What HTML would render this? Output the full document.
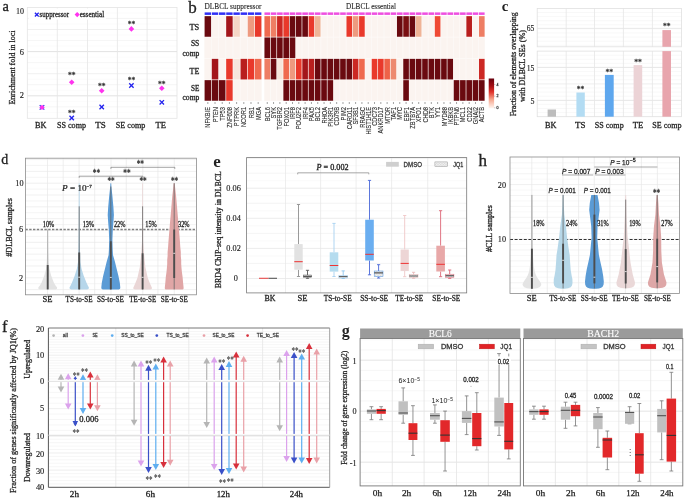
<!DOCTYPE html>
<html><head><meta charset="utf-8"><style>
html,body{margin:0;padding:0;background:#fff;overflow:hidden;}
svg{display:block;will-change:transform;}
</style></head><body>
<svg width="685" height="499" viewBox="0 0 685 499">
<rect width="685" height="499" fill="#fff"/>
<rect x="27.30" y="7.50" width="149.70" height="110.80" fill="#fff" />
<line x1="27.30" y1="106.85" x2="177.00" y2="106.85" stroke="#efefef" stroke-width="0.6" />
<line x1="27.30" y1="95.80" x2="177.00" y2="95.80" stroke="#dadada" stroke-width="0.8" />
<line x1="27.30" y1="84.75" x2="177.00" y2="84.75" stroke="#efefef" stroke-width="0.6" />
<line x1="27.30" y1="73.70" x2="177.00" y2="73.70" stroke="#e6e6e6" stroke-width="0.6" />
<line x1="27.30" y1="62.65" x2="177.00" y2="62.65" stroke="#efefef" stroke-width="0.6" />
<line x1="27.30" y1="51.60" x2="177.00" y2="51.60" stroke="#dadada" stroke-width="0.8" />
<line x1="27.30" y1="40.55" x2="177.00" y2="40.55" stroke="#efefef" stroke-width="0.6" />
<line x1="27.30" y1="29.50" x2="177.00" y2="29.50" stroke="#e6e6e6" stroke-width="0.6" />
<line x1="27.30" y1="18.45" x2="177.00" y2="18.45" stroke="#efefef" stroke-width="0.6" />
<line x1="27.30" y1="112.38" x2="177.00" y2="112.38" stroke="#f6f6f6" stroke-width="0.5" />
<line x1="27.30" y1="101.33" x2="177.00" y2="101.33" stroke="#f6f6f6" stroke-width="0.5" />
<line x1="27.30" y1="90.28" x2="177.00" y2="90.28" stroke="#f6f6f6" stroke-width="0.5" />
<line x1="27.30" y1="79.22" x2="177.00" y2="79.22" stroke="#f6f6f6" stroke-width="0.5" />
<line x1="27.30" y1="68.18" x2="177.00" y2="68.18" stroke="#f6f6f6" stroke-width="0.5" />
<line x1="27.30" y1="57.12" x2="177.00" y2="57.12" stroke="#f6f6f6" stroke-width="0.5" />
<line x1="27.30" y1="46.08" x2="177.00" y2="46.08" stroke="#f6f6f6" stroke-width="0.5" />
<line x1="27.30" y1="35.03" x2="177.00" y2="35.03" stroke="#f6f6f6" stroke-width="0.5" />
<line x1="27.30" y1="23.97" x2="177.00" y2="23.97" stroke="#f6f6f6" stroke-width="0.5" />
<line x1="27.30" y1="12.92" x2="177.00" y2="12.92" stroke="#f6f6f6" stroke-width="0.5" />
<line x1="57.30" y1="7.50" x2="57.30" y2="118.30" stroke="#e6e6e6" stroke-width="0.8" />
<line x1="87.50" y1="7.50" x2="87.50" y2="118.30" stroke="#e6e6e6" stroke-width="0.8" />
<line x1="117.40" y1="7.50" x2="117.40" y2="118.30" stroke="#e6e6e6" stroke-width="0.8" />
<line x1="147.10" y1="7.50" x2="147.10" y2="118.30" stroke="#e6e6e6" stroke-width="0.8" />
<rect x="27.3" y="7.5" width="149.7" height="110.8" fill="none" stroke="#e4e4e4" stroke-width="0.8"/>
<text x="24.00" y="13.66" font-size="8.4" font-family='"Liberation Serif", serif' fill="#222" text-anchor="end" stroke="#222" stroke-width="0.14" textLength="8.00" lengthAdjust="spacingAndGlyphs" >10</text>
<text x="24.00" y="54.76" font-size="8.4" font-family='"Liberation Serif", serif' fill="#222" text-anchor="end" stroke="#222" stroke-width="0.14" >6</text>
<text x="24.00" y="98.46" font-size="8.4" font-family='"Liberation Serif", serif' fill="#222" text-anchor="end" stroke="#222" stroke-width="0.14" >2</text>
<text transform="translate(12.00,67.50) rotate(-90)" x="0" y="2.92" font-size="8.6" font-family='"Liberation Serif", serif' fill="#222" text-anchor="middle" stroke="#222" stroke-width="0.28" textLength="74.00" lengthAdjust="spacingAndGlyphs" >Enrichment fold in loci</text>
<text x="40.70" y="128.22" font-size="8.6" font-family='"Liberation Serif", serif' fill="#222" text-anchor="middle" stroke="#222" stroke-width="0.28" textLength="11.50" lengthAdjust="spacingAndGlyphs" >BK</text>
<text x="71.50" y="128.22" font-size="8.6" font-family='"Liberation Serif", serif' fill="#222" text-anchor="middle" stroke="#222" stroke-width="0.28" textLength="29.00" lengthAdjust="spacingAndGlyphs" >SS comp</text>
<text x="100.60" y="128.22" font-size="8.6" font-family='"Liberation Serif", serif' fill="#222" text-anchor="middle" stroke="#222" stroke-width="0.28" textLength="10.50" lengthAdjust="spacingAndGlyphs" >TS</text>
<text x="130.60" y="128.22" font-size="8.6" font-family='"Liberation Serif", serif' fill="#222" text-anchor="middle" stroke="#222" stroke-width="0.28" textLength="29.50" lengthAdjust="spacingAndGlyphs" >SE comp</text>
<text x="160.80" y="128.22" font-size="8.6" font-family='"Liberation Serif", serif' fill="#222" text-anchor="middle" stroke="#222" stroke-width="0.28" textLength="10.50" lengthAdjust="spacingAndGlyphs" >TE</text>
<rect x="29.00" y="8.50" width="77.00" height="11.00" fill="#fff" />
<line x1="34.90" y1="12.70" x2="38.70" y2="16.50" stroke="#2222ee" stroke-width="1.3" />
<line x1="34.90" y1="16.50" x2="38.70" y2="12.70" stroke="#2222ee" stroke-width="1.3" />
<text x="39.60" y="17.39" font-size="8.2" font-family='"Liberation Serif", serif' fill="#222" text-anchor="start" stroke="#222" stroke-width="0.28" textLength="29.50" lengthAdjust="spacingAndGlyphs" >suppressor</text>
<path d="M74.60000000000001,14.6 L77.2,12.0 L79.8,14.6 L77.2,17.2 Z" fill="#ff33ee" stroke="none" stroke-width="0.5" />
<text x="79.70" y="17.39" font-size="8.2" font-family='"Liberation Serif", serif' fill="#222" text-anchor="start" stroke="#222" stroke-width="0.28" textLength="24.50" lengthAdjust="spacingAndGlyphs" >essential</text>
<line x1="39.70" y1="105.10" x2="44.30" y2="109.70" stroke="#3333ee" stroke-width="1.2" />
<line x1="39.70" y1="109.70" x2="44.30" y2="105.10" stroke="#3333ee" stroke-width="1.2" />
<path d="M39.3,107.4 L42.0,104.7 L44.7,107.4 L42.0,110.10000000000001 Z" fill="#ff33ee" stroke="none" stroke-width="0.5" />
<path d="M68.9,82.3 L71.7,79.5 L74.5,82.3 L71.7,85.1 Z" fill="#ff33ee" stroke="none" stroke-width="0.5" />
<text x="71.70" y="78.29" font-size="8.5" font-family='"Liberation Serif", serif' fill="#333" text-anchor="middle" stroke="#333" stroke-width="0.28" textLength="7.50" lengthAdjust="spacingAndGlyphs" >**</text>
<line x1="69.50" y1="115.80" x2="73.90" y2="120.20" stroke="#2222ee" stroke-width="1.3" />
<line x1="69.50" y1="120.20" x2="73.90" y2="115.80" stroke="#2222ee" stroke-width="1.3" />
<text x="71.70" y="115.59" font-size="8.5" font-family='"Liberation Serif", serif' fill="#333" text-anchor="middle" stroke="#333" stroke-width="0.28" textLength="7.50" lengthAdjust="spacingAndGlyphs" >**</text>
<path d="M98.9,90.7 L101.7,87.9 L104.5,90.7 L101.7,93.5 Z" fill="#ff33ee" stroke="none" stroke-width="0.5" />
<text x="101.70" y="88.79" font-size="8.5" font-family='"Liberation Serif", serif' fill="#333" text-anchor="middle" stroke="#333" stroke-width="0.28" textLength="7.50" lengthAdjust="spacingAndGlyphs" >**</text>
<line x1="99.50" y1="104.80" x2="103.90" y2="109.20" stroke="#2222ee" stroke-width="1.3" />
<line x1="99.50" y1="109.20" x2="103.90" y2="104.80" stroke="#2222ee" stroke-width="1.3" />
<path d="M128.6,28.9 L131.4,26.099999999999998 L134.20000000000002,28.9 L131.4,31.7 Z" fill="#ff33ee" stroke="none" stroke-width="0.5" />
<text x="131.40" y="27.19" font-size="8.5" font-family='"Liberation Serif", serif' fill="#333" text-anchor="middle" stroke="#333" stroke-width="0.28" textLength="7.50" lengthAdjust="spacingAndGlyphs" >**</text>
<line x1="129.20" y1="83.30" x2="133.60" y2="87.70" stroke="#2222ee" stroke-width="1.3" />
<line x1="129.20" y1="87.70" x2="133.60" y2="83.30" stroke="#2222ee" stroke-width="1.3" />
<text x="131.40" y="82.99" font-size="8.5" font-family='"Liberation Serif", serif' fill="#333" text-anchor="middle" stroke="#333" stroke-width="0.28" textLength="7.50" lengthAdjust="spacingAndGlyphs" >**</text>
<path d="M159.0,88.3 L161.8,85.5 L164.60000000000002,88.3 L161.8,91.1 Z" fill="#ff33ee" stroke="none" stroke-width="0.5" />
<text x="161.80" y="87.49" font-size="8.5" font-family='"Liberation Serif", serif' fill="#333" text-anchor="middle" stroke="#333" stroke-width="0.28" textLength="7.50" lengthAdjust="spacingAndGlyphs" >**</text>
<line x1="159.60" y1="100.10" x2="164.00" y2="104.50" stroke="#2222ee" stroke-width="1.3" />
<line x1="159.60" y1="104.50" x2="164.00" y2="100.10" stroke="#2222ee" stroke-width="1.3" />
<text x="5.60" y="11.43" font-size="14.5" font-family='"Liberation Serif", serif' fill="#222" text-anchor="middle" stroke="#222" stroke-width="0.28" textLength="6.40" lengthAdjust="spacingAndGlyphs" >a</text>
<rect x="204.25" y="15.80" width="57.52" height="85.30" fill="#fdfaf8" />
<rect x="264.10" y="15.80" width="220.85" height="85.30" fill="#fdfaf8" />
<rect x="204.60" y="16.15" width="6.49" height="20.60" fill="#6a0a10" />
<rect x="211.79" y="16.15" width="6.49" height="20.60" fill="#fbf4f0" />
<rect x="218.98" y="16.15" width="6.49" height="20.60" fill="#fbf4f0" />
<rect x="226.17" y="16.15" width="6.49" height="20.60" fill="#a3161b" />
<rect x="233.36" y="16.15" width="6.49" height="20.60" fill="#f5d6c6" />
<rect x="240.55" y="16.15" width="6.49" height="20.60" fill="#fbf4f0" />
<rect x="247.74" y="16.15" width="6.49" height="20.60" fill="#ee9a80" />
<rect x="254.93" y="16.15" width="6.49" height="20.60" fill="#e9392b" />
<rect x="264.45" y="16.15" width="5.61" height="20.60" fill="#ef6a4f" />
<rect x="270.76" y="16.15" width="5.61" height="20.60" fill="#ee7e64" />
<rect x="277.07" y="16.15" width="5.61" height="20.60" fill="#cc2824" />
<rect x="283.38" y="16.15" width="5.61" height="20.60" fill="#e9392b" />
<rect x="289.69" y="16.15" width="5.61" height="20.60" fill="#6a0a10" />
<rect x="296.00" y="16.15" width="5.61" height="20.60" fill="#6a0a10" />
<rect x="302.31" y="16.15" width="5.61" height="20.60" fill="#6a0a10" />
<rect x="308.62" y="16.15" width="5.61" height="20.60" fill="#e9392b" />
<rect x="314.93" y="16.15" width="5.61" height="20.60" fill="#efb497" />
<rect x="321.24" y="16.15" width="5.61" height="20.60" fill="#fbf4f0" />
<rect x="327.55" y="16.15" width="5.61" height="20.60" fill="#fbf4f0" />
<rect x="333.86" y="16.15" width="5.61" height="20.60" fill="#fbf4f0" />
<rect x="340.17" y="16.15" width="5.61" height="20.60" fill="#fbf4f0" />
<rect x="346.48" y="16.15" width="5.61" height="20.60" fill="#e9392b" />
<rect x="352.79" y="16.15" width="5.61" height="20.60" fill="#ee9a80" />
<rect x="359.10" y="16.15" width="5.61" height="20.60" fill="#e9392b" />
<rect x="365.41" y="16.15" width="5.61" height="20.60" fill="#fbf4f0" />
<rect x="371.72" y="16.15" width="5.61" height="20.60" fill="#fbf4f0" />
<rect x="378.03" y="16.15" width="5.61" height="20.60" fill="#fbf4f0" />
<rect x="384.34" y="16.15" width="5.61" height="20.60" fill="#fbf4f0" />
<rect x="390.65" y="16.15" width="5.61" height="20.60" fill="#fbf4f0" />
<rect x="396.96" y="16.15" width="5.61" height="20.60" fill="#6a0a10" />
<rect x="403.27" y="16.15" width="5.61" height="20.60" fill="#7a0f12" />
<rect x="409.58" y="16.15" width="5.61" height="20.60" fill="#6a0a10" />
<rect x="415.89" y="16.15" width="5.61" height="20.60" fill="#efb497" />
<rect x="422.20" y="16.15" width="5.61" height="20.60" fill="#fbf4f0" />
<rect x="428.51" y="16.15" width="5.61" height="20.60" fill="#fbf4f0" />
<rect x="434.82" y="16.15" width="5.61" height="20.60" fill="#ef4a35" />
<rect x="441.13" y="16.15" width="5.61" height="20.60" fill="#fbf4f0" />
<rect x="447.44" y="16.15" width="5.61" height="20.60" fill="#fbf4f0" />
<rect x="453.75" y="16.15" width="5.61" height="20.60" fill="#fbf4f0" />
<rect x="460.06" y="16.15" width="5.61" height="20.60" fill="#fbf4f0" />
<rect x="466.37" y="16.15" width="5.61" height="20.60" fill="#b91f1e" />
<rect x="472.68" y="16.15" width="5.61" height="20.60" fill="#fbf4f0" />
<rect x="478.99" y="16.15" width="5.61" height="20.60" fill="#ee7e64" />
<rect x="204.60" y="37.45" width="6.49" height="20.70" fill="#fbf4f0" />
<rect x="211.79" y="37.45" width="6.49" height="20.70" fill="#fbf4f0" />
<rect x="218.98" y="37.45" width="6.49" height="20.70" fill="#fbf4f0" />
<rect x="226.17" y="37.45" width="6.49" height="20.70" fill="#fbf4f0" />
<rect x="233.36" y="37.45" width="6.49" height="20.70" fill="#fbf4f0" />
<rect x="240.55" y="37.45" width="6.49" height="20.70" fill="#fbf4f0" />
<rect x="247.74" y="37.45" width="6.49" height="20.70" fill="#fbf4f0" />
<rect x="254.93" y="37.45" width="6.49" height="20.70" fill="#fbf4f0" />
<rect x="264.45" y="37.45" width="5.61" height="20.70" fill="#6a0a10" />
<rect x="270.76" y="37.45" width="5.61" height="20.70" fill="#6a0a10" />
<rect x="277.07" y="37.45" width="5.61" height="20.70" fill="#6a0a10" />
<rect x="283.38" y="37.45" width="5.61" height="20.70" fill="#6a0a10" />
<rect x="289.69" y="37.45" width="5.61" height="20.70" fill="#6a0a10" />
<rect x="296.00" y="37.45" width="5.61" height="20.70" fill="#fbf4f0" />
<rect x="302.31" y="37.45" width="5.61" height="20.70" fill="#fbf4f0" />
<rect x="308.62" y="37.45" width="5.61" height="20.70" fill="#fbf4f0" />
<rect x="314.93" y="37.45" width="5.61" height="20.70" fill="#fbf4f0" />
<rect x="321.24" y="37.45" width="5.61" height="20.70" fill="#fbf4f0" />
<rect x="327.55" y="37.45" width="5.61" height="20.70" fill="#fbf4f0" />
<rect x="333.86" y="37.45" width="5.61" height="20.70" fill="#fbf4f0" />
<rect x="340.17" y="37.45" width="5.61" height="20.70" fill="#fbf4f0" />
<rect x="346.48" y="37.45" width="5.61" height="20.70" fill="#fbf4f0" />
<rect x="352.79" y="37.45" width="5.61" height="20.70" fill="#fbf4f0" />
<rect x="359.10" y="37.45" width="5.61" height="20.70" fill="#fbf4f0" />
<rect x="365.41" y="37.45" width="5.61" height="20.70" fill="#fbf4f0" />
<rect x="371.72" y="37.45" width="5.61" height="20.70" fill="#fbf4f0" />
<rect x="378.03" y="37.45" width="5.61" height="20.70" fill="#fbf4f0" />
<rect x="384.34" y="37.45" width="5.61" height="20.70" fill="#fbf4f0" />
<rect x="390.65" y="37.45" width="5.61" height="20.70" fill="#fbf4f0" />
<rect x="396.96" y="37.45" width="5.61" height="20.70" fill="#fbf4f0" />
<rect x="403.27" y="37.45" width="5.61" height="20.70" fill="#fbf4f0" />
<rect x="409.58" y="37.45" width="5.61" height="20.70" fill="#fbf4f0" />
<rect x="415.89" y="37.45" width="5.61" height="20.70" fill="#fbf4f0" />
<rect x="422.20" y="37.45" width="5.61" height="20.70" fill="#fbf4f0" />
<rect x="428.51" y="37.45" width="5.61" height="20.70" fill="#fbf4f0" />
<rect x="434.82" y="37.45" width="5.61" height="20.70" fill="#fbf4f0" />
<rect x="441.13" y="37.45" width="5.61" height="20.70" fill="#fbf4f0" />
<rect x="447.44" y="37.45" width="5.61" height="20.70" fill="#fbf4f0" />
<rect x="453.75" y="37.45" width="5.61" height="20.70" fill="#fbf4f0" />
<rect x="460.06" y="37.45" width="5.61" height="20.70" fill="#fbf4f0" />
<rect x="466.37" y="37.45" width="5.61" height="20.70" fill="#fbf4f0" />
<rect x="472.68" y="37.45" width="5.61" height="20.70" fill="#fbf4f0" />
<rect x="478.99" y="37.45" width="5.61" height="20.70" fill="#fbf4f0" />
<rect x="204.60" y="58.85" width="6.49" height="20.60" fill="#fbf4f0" />
<rect x="211.79" y="58.85" width="6.49" height="20.60" fill="#a3161b" />
<rect x="218.98" y="58.85" width="6.49" height="20.60" fill="#fbf4f0" />
<rect x="226.17" y="58.85" width="6.49" height="20.60" fill="#e9392b" />
<rect x="233.36" y="58.85" width="6.49" height="20.60" fill="#f6e6dc" />
<rect x="240.55" y="58.85" width="6.49" height="20.60" fill="#b91f1e" />
<rect x="247.74" y="58.85" width="6.49" height="20.60" fill="#e9392b" />
<rect x="254.93" y="58.85" width="6.49" height="20.60" fill="#ef6a4f" />
<rect x="264.45" y="58.85" width="5.61" height="20.60" fill="#ee7e64" />
<rect x="270.76" y="58.85" width="5.61" height="20.60" fill="#6a0a10" />
<rect x="277.07" y="58.85" width="5.61" height="20.60" fill="#f6e6dc" />
<rect x="283.38" y="58.85" width="5.61" height="20.60" fill="#ef6a4f" />
<rect x="289.69" y="58.85" width="5.61" height="20.60" fill="#ee9a80" />
<rect x="296.00" y="58.85" width="5.61" height="20.60" fill="#e9392b" />
<rect x="302.31" y="58.85" width="5.61" height="20.60" fill="#a3161b" />
<rect x="308.62" y="58.85" width="5.61" height="20.60" fill="#b91f1e" />
<rect x="314.93" y="58.85" width="5.61" height="20.60" fill="#6a0a10" />
<rect x="321.24" y="58.85" width="5.61" height="20.60" fill="#6a0a10" />
<rect x="327.55" y="58.85" width="5.61" height="20.60" fill="#6a0a10" />
<rect x="333.86" y="58.85" width="5.61" height="20.60" fill="#6a0a10" />
<rect x="340.17" y="58.85" width="5.61" height="20.60" fill="#6a0a10" />
<rect x="346.48" y="58.85" width="5.61" height="20.60" fill="#6a0a10" />
<rect x="352.79" y="58.85" width="5.61" height="20.60" fill="#cc2824" />
<rect x="359.10" y="58.85" width="5.61" height="20.60" fill="#ef6a4f" />
<rect x="365.41" y="58.85" width="5.61" height="20.60" fill="#fbf4f0" />
<rect x="371.72" y="58.85" width="5.61" height="20.60" fill="#e9392b" />
<rect x="378.03" y="58.85" width="5.61" height="20.60" fill="#e9392b" />
<rect x="384.34" y="58.85" width="5.61" height="20.60" fill="#ee6248" />
<rect x="390.65" y="58.85" width="5.61" height="20.60" fill="#ed8a70" />
<rect x="396.96" y="58.85" width="5.61" height="20.60" fill="#fbf4f0" />
<rect x="403.27" y="58.85" width="5.61" height="20.60" fill="#6a0a10" />
<rect x="409.58" y="58.85" width="5.61" height="20.60" fill="#6a0a10" />
<rect x="415.89" y="58.85" width="5.61" height="20.60" fill="#6a0a10" />
<rect x="422.20" y="58.85" width="5.61" height="20.60" fill="#6a0a10" />
<rect x="428.51" y="58.85" width="5.61" height="20.60" fill="#6a0a10" />
<rect x="434.82" y="58.85" width="5.61" height="20.60" fill="#6a0a10" />
<rect x="441.13" y="58.85" width="5.61" height="20.60" fill="#6a0a10" />
<rect x="447.44" y="58.85" width="5.61" height="20.60" fill="#6a0a10" />
<rect x="453.75" y="58.85" width="5.61" height="20.60" fill="#fbf4f0" />
<rect x="460.06" y="58.85" width="5.61" height="20.60" fill="#fbf4f0" />
<rect x="466.37" y="58.85" width="5.61" height="20.60" fill="#fbf4f0" />
<rect x="472.68" y="58.85" width="5.61" height="20.60" fill="#fbf4f0" />
<rect x="478.99" y="58.85" width="5.61" height="20.60" fill="#cc2824" />
<rect x="204.60" y="80.15" width="6.49" height="20.60" fill="#6a0a10" />
<rect x="211.79" y="80.15" width="6.49" height="20.60" fill="#6a0a10" />
<rect x="218.98" y="80.15" width="6.49" height="20.60" fill="#6a0a10" />
<rect x="226.17" y="80.15" width="6.49" height="20.60" fill="#e9392b" />
<rect x="233.36" y="80.15" width="6.49" height="20.60" fill="#fbf4f0" />
<rect x="240.55" y="80.15" width="6.49" height="20.60" fill="#fbf4f0" />
<rect x="247.74" y="80.15" width="6.49" height="20.60" fill="#fbf4f0" />
<rect x="254.93" y="80.15" width="6.49" height="20.60" fill="#fbf4f0" />
<rect x="264.45" y="80.15" width="5.61" height="20.60" fill="#fbf4f0" />
<rect x="270.76" y="80.15" width="5.61" height="20.60" fill="#fbf4f0" />
<rect x="277.07" y="80.15" width="5.61" height="20.60" fill="#fbf4f0" />
<rect x="283.38" y="80.15" width="5.61" height="20.60" fill="#6a0a10" />
<rect x="289.69" y="80.15" width="5.61" height="20.60" fill="#6a0a10" />
<rect x="296.00" y="80.15" width="5.61" height="20.60" fill="#6a0a10" />
<rect x="302.31" y="80.15" width="5.61" height="20.60" fill="#6a0a10" />
<rect x="308.62" y="80.15" width="5.61" height="20.60" fill="#6a0a10" />
<rect x="314.93" y="80.15" width="5.61" height="20.60" fill="#6a0a10" />
<rect x="321.24" y="80.15" width="5.61" height="20.60" fill="#6a0a10" />
<rect x="327.55" y="80.15" width="5.61" height="20.60" fill="#6a0a10" />
<rect x="333.86" y="80.15" width="5.61" height="20.60" fill="#fbf4f0" />
<rect x="340.17" y="80.15" width="5.61" height="20.60" fill="#fbf4f0" />
<rect x="346.48" y="80.15" width="5.61" height="20.60" fill="#fbf4f0" />
<rect x="352.79" y="80.15" width="5.61" height="20.60" fill="#fbf4f0" />
<rect x="359.10" y="80.15" width="5.61" height="20.60" fill="#fbf4f0" />
<rect x="365.41" y="80.15" width="5.61" height="20.60" fill="#fbf4f0" />
<rect x="371.72" y="80.15" width="5.61" height="20.60" fill="#fbf4f0" />
<rect x="378.03" y="80.15" width="5.61" height="20.60" fill="#fbf4f0" />
<rect x="384.34" y="80.15" width="5.61" height="20.60" fill="#fbf4f0" />
<rect x="390.65" y="80.15" width="5.61" height="20.60" fill="#fbf4f0" />
<rect x="396.96" y="80.15" width="5.61" height="20.60" fill="#fbf4f0" />
<rect x="403.27" y="80.15" width="5.61" height="20.60" fill="#6a0a10" />
<rect x="409.58" y="80.15" width="5.61" height="20.60" fill="#fbf4f0" />
<rect x="415.89" y="80.15" width="5.61" height="20.60" fill="#fbf4f0" />
<rect x="422.20" y="80.15" width="5.61" height="20.60" fill="#fbf4f0" />
<rect x="428.51" y="80.15" width="5.61" height="20.60" fill="#fbf4f0" />
<rect x="434.82" y="80.15" width="5.61" height="20.60" fill="#fbf4f0" />
<rect x="441.13" y="80.15" width="5.61" height="20.60" fill="#fbf4f0" />
<rect x="447.44" y="80.15" width="5.61" height="20.60" fill="#fbf4f0" />
<rect x="453.75" y="80.15" width="5.61" height="20.60" fill="#6a0a10" />
<rect x="460.06" y="80.15" width="5.61" height="20.60" fill="#6a0a10" />
<rect x="466.37" y="80.15" width="5.61" height="20.60" fill="#6a0a10" />
<rect x="472.68" y="80.15" width="5.61" height="20.60" fill="#6a0a10" />
<rect x="478.99" y="80.15" width="5.61" height="20.60" fill="#6a0a10" />
<rect x="204.65" y="12.40" width="6.39" height="2.50" fill="#2f2ff5" />
<rect x="211.84" y="12.40" width="6.39" height="2.50" fill="#2f2ff5" />
<rect x="219.03" y="12.40" width="6.39" height="2.50" fill="#2f2ff5" />
<rect x="226.22" y="12.40" width="6.39" height="2.50" fill="#2f2ff5" />
<rect x="233.41" y="12.40" width="6.39" height="2.50" fill="#2f2ff5" />
<rect x="240.60" y="12.40" width="6.39" height="2.50" fill="#2f2ff5" />
<rect x="247.79" y="12.40" width="6.39" height="2.50" fill="#2f2ff5" />
<rect x="254.98" y="12.40" width="6.39" height="2.50" fill="#2f2ff5" />
<rect x="264.45" y="12.40" width="5.61" height="2.50" fill="#ee4fe0" />
<rect x="270.76" y="12.40" width="5.61" height="2.50" fill="#ee4fe0" />
<rect x="277.07" y="12.40" width="5.61" height="2.50" fill="#ee4fe0" />
<rect x="283.38" y="12.40" width="5.61" height="2.50" fill="#ee4fe0" />
<rect x="289.69" y="12.40" width="5.61" height="2.50" fill="#ee4fe0" />
<rect x="296.00" y="12.40" width="5.61" height="2.50" fill="#ee4fe0" />
<rect x="302.31" y="12.40" width="5.61" height="2.50" fill="#ee4fe0" />
<rect x="308.62" y="12.40" width="5.61" height="2.50" fill="#ee4fe0" />
<rect x="314.93" y="12.40" width="5.61" height="2.50" fill="#ee4fe0" />
<rect x="321.24" y="12.40" width="5.61" height="2.50" fill="#ee4fe0" />
<rect x="327.55" y="12.40" width="5.61" height="2.50" fill="#ee4fe0" />
<rect x="333.86" y="12.40" width="5.61" height="2.50" fill="#ee4fe0" />
<rect x="340.17" y="12.40" width="5.61" height="2.50" fill="#ee4fe0" />
<rect x="346.48" y="12.40" width="5.61" height="2.50" fill="#ee4fe0" />
<rect x="352.79" y="12.40" width="5.61" height="2.50" fill="#ee4fe0" />
<rect x="359.10" y="12.40" width="5.61" height="2.50" fill="#ee4fe0" />
<rect x="365.41" y="12.40" width="5.61" height="2.50" fill="#ee4fe0" />
<rect x="371.72" y="12.40" width="5.61" height="2.50" fill="#ee4fe0" />
<rect x="378.03" y="12.40" width="5.61" height="2.50" fill="#ee4fe0" />
<rect x="384.34" y="12.40" width="5.61" height="2.50" fill="#ee4fe0" />
<rect x="390.65" y="12.40" width="5.61" height="2.50" fill="#ee4fe0" />
<rect x="396.96" y="12.40" width="5.61" height="2.50" fill="#ee4fe0" />
<rect x="403.27" y="12.40" width="5.61" height="2.50" fill="#ee4fe0" />
<rect x="409.58" y="12.40" width="5.61" height="2.50" fill="#ee4fe0" />
<rect x="415.89" y="12.40" width="5.61" height="2.50" fill="#ee4fe0" />
<rect x="422.20" y="12.40" width="5.61" height="2.50" fill="#ee4fe0" />
<rect x="428.51" y="12.40" width="5.61" height="2.50" fill="#ee4fe0" />
<rect x="434.82" y="12.40" width="5.61" height="2.50" fill="#ee4fe0" />
<rect x="441.13" y="12.40" width="5.61" height="2.50" fill="#ee4fe0" />
<rect x="447.44" y="12.40" width="5.61" height="2.50" fill="#ee4fe0" />
<rect x="453.75" y="12.40" width="5.61" height="2.50" fill="#ee4fe0" />
<rect x="460.06" y="12.40" width="5.61" height="2.50" fill="#ee4fe0" />
<rect x="466.37" y="12.40" width="5.61" height="2.50" fill="#ee4fe0" />
<rect x="472.68" y="12.40" width="5.61" height="2.50" fill="#ee4fe0" />
<rect x="478.99" y="12.40" width="5.61" height="2.50" fill="#ee4fe0" />
<text x="233.00" y="8.52" font-size="8.6" font-family='"Liberation Serif", serif' fill="#222" text-anchor="middle" stroke="#222" stroke-width="0.1" textLength="57.00" lengthAdjust="spacingAndGlyphs" >DLBCL suppressor</text>
<text x="371.00" y="8.52" font-size="8.6" font-family='"Liberation Serif", serif' fill="#222" text-anchor="middle" stroke="#222" stroke-width="0.1" textLength="50.00" lengthAdjust="spacingAndGlyphs" >DLBCL essential</text>
<text x="199.30" y="29.99" font-size="8.8" font-family='"Liberation Serif", serif' fill="#222" text-anchor="end" stroke="#222" stroke-width="0.3" textLength="9.80" lengthAdjust="spacingAndGlyphs" >TS</text>
<text x="199.30" y="46.29" font-size="8.2" font-family='"Liberation Serif", serif' fill="#222" text-anchor="end" stroke="#222" stroke-width="0.3" textLength="8.40" lengthAdjust="spacingAndGlyphs" >SS</text>
<text x="199.30" y="55.59" font-size="8.2" font-family='"Liberation Serif", serif' fill="#222" text-anchor="end" stroke="#222" stroke-width="0.3" textLength="16.80" lengthAdjust="spacingAndGlyphs" >comp</text>
<text x="199.30" y="74.19" font-size="8.8" font-family='"Liberation Serif", serif' fill="#222" text-anchor="end" stroke="#222" stroke-width="0.3" textLength="9.80" lengthAdjust="spacingAndGlyphs" >TE</text>
<text x="199.30" y="91.19" font-size="8.2" font-family='"Liberation Serif", serif' fill="#222" text-anchor="end" stroke="#222" stroke-width="0.3" textLength="8.40" lengthAdjust="spacingAndGlyphs" >SE</text>
<text x="199.30" y="100.19" font-size="8.2" font-family='"Liberation Serif", serif' fill="#222" text-anchor="end" stroke="#222" stroke-width="0.3" textLength="16.80" lengthAdjust="spacingAndGlyphs" >comp</text>
<line x1="207.84" y1="102.00" x2="207.84" y2="104.00" stroke="#666" stroke-width="0.6" />
<text transform="translate(207.84,107.00) rotate(-90)" x="0" y="2.58" font-size="7.6" font-family='"Liberation Sans", sans-serif' fill="#2a2a2a" text-anchor="end" stroke="#2a2a2a" stroke-width="0.12" textLength="20.72" lengthAdjust="spacingAndGlyphs" >NFKBIE</text>
<line x1="215.03" y1="102.00" x2="215.03" y2="104.00" stroke="#666" stroke-width="0.6" />
<text transform="translate(215.03,107.00) rotate(-90)" x="0" y="2.58" font-size="7.6" font-family='"Liberation Sans", sans-serif' fill="#2a2a2a" text-anchor="end" stroke="#2a2a2a" stroke-width="0.12" textLength="15.30" lengthAdjust="spacingAndGlyphs" >PTEN</text>
<line x1="222.22" y1="102.00" x2="222.22" y2="104.00" stroke="#666" stroke-width="0.6" />
<text transform="translate(222.22,107.00) rotate(-90)" x="0" y="2.58" font-size="7.6" font-family='"Liberation Sans", sans-serif' fill="#2a2a2a" text-anchor="end" stroke="#2a2a2a" stroke-width="0.12" textLength="13.71" lengthAdjust="spacingAndGlyphs" >TP53</text>
<line x1="229.41" y1="102.00" x2="229.41" y2="104.00" stroke="#666" stroke-width="0.6" />
<text transform="translate(229.41,107.00) rotate(-90)" x="0" y="2.58" font-size="7.6" font-family='"Liberation Sans", sans-serif' fill="#2a2a2a" text-anchor="end" stroke="#2a2a2a" stroke-width="0.12" textLength="20.73" lengthAdjust="spacingAndGlyphs" >ZNF608</text>
<line x1="236.61" y1="102.00" x2="236.61" y2="104.00" stroke="#666" stroke-width="0.6" />
<text transform="translate(236.61,107.00) rotate(-90)" x="0" y="2.58" font-size="7.6" font-family='"Liberation Sans", sans-serif' fill="#2a2a2a" text-anchor="end" stroke="#2a2a2a" stroke-width="0.12" textLength="19.13" lengthAdjust="spacingAndGlyphs" >PTPRK</text>
<line x1="243.80" y1="102.00" x2="243.80" y2="104.00" stroke="#666" stroke-width="0.6" />
<text transform="translate(243.80,107.00) rotate(-90)" x="0" y="2.58" font-size="7.6" font-family='"Liberation Sans", sans-serif' fill="#2a2a2a" text-anchor="end" stroke="#2a2a2a" stroke-width="0.12" textLength="20.09" lengthAdjust="spacingAndGlyphs" >NCOR1</text>
<line x1="250.99" y1="102.00" x2="250.99" y2="104.00" stroke="#666" stroke-width="0.6" />
<text transform="translate(250.99,107.00) rotate(-90)" x="0" y="2.58" font-size="7.6" font-family='"Liberation Sans", sans-serif' fill="#2a2a2a" text-anchor="end" stroke="#2a2a2a" stroke-width="0.12" textLength="11.16" lengthAdjust="spacingAndGlyphs" >RB1</text>
<line x1="258.18" y1="102.00" x2="258.18" y2="104.00" stroke="#666" stroke-width="0.6" />
<text transform="translate(258.18,107.00) rotate(-90)" x="0" y="2.58" font-size="7.6" font-family='"Liberation Sans", sans-serif' fill="#2a2a2a" text-anchor="end" stroke="#2a2a2a" stroke-width="0.12" textLength="13.07" lengthAdjust="spacingAndGlyphs" >MGA</text>
<line x1="267.25" y1="102.00" x2="267.25" y2="104.00" stroke="#666" stroke-width="0.6" />
<text transform="translate(267.25,107.00) rotate(-90)" x="0" y="2.58" font-size="7.6" font-family='"Liberation Sans", sans-serif' fill="#2a2a2a" text-anchor="end" stroke="#2a2a2a" stroke-width="0.12" textLength="14.35" lengthAdjust="spacingAndGlyphs" >BCL6</text>
<line x1="273.56" y1="102.00" x2="273.56" y2="104.00" stroke="#666" stroke-width="0.6" />
<text transform="translate(273.56,107.00) rotate(-90)" x="0" y="2.58" font-size="7.6" font-family='"Liberation Sans", sans-serif' fill="#2a2a2a" text-anchor="end" stroke="#2a2a2a" stroke-width="0.12" textLength="11.48" lengthAdjust="spacingAndGlyphs" >SYK</text>
<line x1="279.88" y1="102.00" x2="279.88" y2="104.00" stroke="#666" stroke-width="0.6" />
<text transform="translate(279.88,107.00) rotate(-90)" x="0" y="2.58" font-size="7.6" font-family='"Liberation Sans", sans-serif' fill="#2a2a2a" text-anchor="end" stroke="#2a2a2a" stroke-width="0.12" textLength="22.63" lengthAdjust="spacingAndGlyphs" >TGFBR2</text>
<line x1="286.19" y1="102.00" x2="286.19" y2="104.00" stroke="#666" stroke-width="0.6" />
<text transform="translate(286.19,107.00) rotate(-90)" x="0" y="2.58" font-size="7.6" font-family='"Liberation Sans", sans-serif' fill="#2a2a2a" text-anchor="end" stroke="#2a2a2a" stroke-width="0.12" textLength="19.45" lengthAdjust="spacingAndGlyphs" >FOXO1</text>
<line x1="292.50" y1="102.00" x2="292.50" y2="104.00" stroke="#666" stroke-width="0.6" />
<text transform="translate(292.50,107.00) rotate(-90)" x="0" y="2.58" font-size="7.6" font-family='"Liberation Sans", sans-serif' fill="#2a2a2a" text-anchor="end" stroke="#2a2a2a" stroke-width="0.12" textLength="12.43" lengthAdjust="spacingAndGlyphs" >IRF8</text>
<line x1="298.81" y1="102.00" x2="298.81" y2="104.00" stroke="#666" stroke-width="0.6" />
<text transform="translate(298.81,107.00) rotate(-90)" x="0" y="2.58" font-size="7.6" font-family='"Liberation Sans", sans-serif' fill="#2a2a2a" text-anchor="end" stroke="#2a2a2a" stroke-width="0.12" textLength="22.32" lengthAdjust="spacingAndGlyphs" >POU2F2</text>
<line x1="305.12" y1="102.00" x2="305.12" y2="104.00" stroke="#666" stroke-width="0.6" />
<text transform="translate(305.12,107.00) rotate(-90)" x="0" y="2.58" font-size="7.6" font-family='"Liberation Sans", sans-serif' fill="#2a2a2a" text-anchor="end" stroke="#2a2a2a" stroke-width="0.12" textLength="12.43" lengthAdjust="spacingAndGlyphs" >IRF4</text>
<line x1="311.43" y1="102.00" x2="311.43" y2="104.00" stroke="#666" stroke-width="0.6" />
<text transform="translate(311.43,107.00) rotate(-90)" x="0" y="2.58" font-size="7.6" font-family='"Liberation Sans", sans-serif' fill="#2a2a2a" text-anchor="end" stroke="#2a2a2a" stroke-width="0.12" textLength="14.25" lengthAdjust="spacingAndGlyphs" >PAX5</text>
<line x1="317.74" y1="102.00" x2="317.74" y2="104.00" stroke="#666" stroke-width="0.6" />
<text transform="translate(317.74,107.00) rotate(-90)" x="0" y="2.58" font-size="7.6" font-family='"Liberation Sans", sans-serif' fill="#2a2a2a" text-anchor="end" stroke="#2a2a2a" stroke-width="0.12" textLength="14.35" lengthAdjust="spacingAndGlyphs" >BCL2</text>
<line x1="324.05" y1="102.00" x2="324.05" y2="104.00" stroke="#666" stroke-width="0.6" />
<text transform="translate(324.05,107.00) rotate(-90)" x="0" y="2.58" font-size="7.6" font-family='"Liberation Sans", sans-serif' fill="#2a2a2a" text-anchor="end" stroke="#2a2a2a" stroke-width="0.12" textLength="16.58" lengthAdjust="spacingAndGlyphs" >RHOA</text>
<line x1="330.36" y1="102.00" x2="330.36" y2="104.00" stroke="#666" stroke-width="0.6" />
<text transform="translate(330.36,107.00) rotate(-90)" x="0" y="2.58" font-size="7.6" font-family='"Liberation Sans", sans-serif' fill="#2a2a2a" text-anchor="end" stroke="#2a2a2a" stroke-width="0.12" textLength="19.77" lengthAdjust="spacingAndGlyphs" >PIK3R1</text>
<line x1="336.67" y1="102.00" x2="336.67" y2="104.00" stroke="#666" stroke-width="0.6" />
<text transform="translate(336.67,107.00) rotate(-90)" x="0" y="2.58" font-size="7.6" font-family='"Liberation Sans", sans-serif' fill="#2a2a2a" text-anchor="end" stroke="#2a2a2a" stroke-width="0.12" textLength="18.50" lengthAdjust="spacingAndGlyphs" >CD79B</text>
<line x1="342.98" y1="102.00" x2="342.98" y2="104.00" stroke="#666" stroke-width="0.6" />
<text transform="translate(342.98,107.00) rotate(-90)" x="0" y="2.58" font-size="7.6" font-family='"Liberation Sans", sans-serif' fill="#2a2a2a" text-anchor="end" stroke="#2a2a2a" stroke-width="0.12" textLength="13.39" lengthAdjust="spacingAndGlyphs" >PIM2</text>
<line x1="349.29" y1="102.00" x2="349.29" y2="104.00" stroke="#666" stroke-width="0.6" />
<text transform="translate(349.29,107.00) rotate(-90)" x="0" y="2.58" font-size="7.6" font-family='"Liberation Sans", sans-serif' fill="#2a2a2a" text-anchor="end" stroke="#2a2a2a" stroke-width="0.12" textLength="22.22" lengthAdjust="spacingAndGlyphs" >CARD11</text>
<line x1="355.60" y1="102.00" x2="355.60" y2="104.00" stroke="#666" stroke-width="0.6" />
<text transform="translate(355.60,107.00) rotate(-90)" x="0" y="2.58" font-size="7.6" font-family='"Liberation Sans", sans-serif' fill="#2a2a2a" text-anchor="end" stroke="#2a2a2a" stroke-width="0.12" textLength="17.54" lengthAdjust="spacingAndGlyphs" >SF3B1</text>
<line x1="361.91" y1="102.00" x2="361.91" y2="104.00" stroke="#666" stroke-width="0.6" />
<text transform="translate(361.91,107.00) rotate(-90)" x="0" y="2.58" font-size="7.6" font-family='"Liberation Sans", sans-serif' fill="#2a2a2a" text-anchor="end" stroke="#2a2a2a" stroke-width="0.12" textLength="20.72" lengthAdjust="spacingAndGlyphs" >RRAGC</text>
<line x1="368.22" y1="102.00" x2="368.22" y2="104.00" stroke="#666" stroke-width="0.6" />
<text transform="translate(368.22,107.00) rotate(-90)" x="0" y="2.58" font-size="7.6" font-family='"Liberation Sans", sans-serif' fill="#2a2a2a" text-anchor="end" stroke="#2a2a2a" stroke-width="0.12" textLength="27.42" lengthAdjust="spacingAndGlyphs" >HIST1H1E</text>
<line x1="374.53" y1="102.00" x2="374.53" y2="104.00" stroke="#666" stroke-width="0.6" />
<text transform="translate(374.53,107.00) rotate(-90)" x="0" y="2.58" font-size="7.6" font-family='"Liberation Sans", sans-serif' fill="#2a2a2a" text-anchor="end" stroke="#2a2a2a" stroke-width="0.12" textLength="18.81" lengthAdjust="spacingAndGlyphs" >CDC73</text>
<line x1="380.84" y1="102.00" x2="380.84" y2="104.00" stroke="#666" stroke-width="0.6" />
<text transform="translate(380.84,107.00) rotate(-90)" x="0" y="2.58" font-size="7.6" font-family='"Liberation Sans", sans-serif' fill="#2a2a2a" text-anchor="end" stroke="#2a2a2a" stroke-width="0.12" textLength="26.47" lengthAdjust="spacingAndGlyphs" >ANKRD17</text>
<line x1="387.14" y1="102.00" x2="387.14" y2="104.00" stroke="#666" stroke-width="0.6" />
<text transform="translate(387.14,107.00) rotate(-90)" x="0" y="2.58" font-size="7.6" font-family='"Liberation Sans", sans-serif' fill="#2a2a2a" text-anchor="end" stroke="#2a2a2a" stroke-width="0.12" textLength="16.79" lengthAdjust="spacingAndGlyphs" >MTOR</text>
<line x1="393.46" y1="102.00" x2="393.46" y2="104.00" stroke="#666" stroke-width="0.6" />
<text transform="translate(393.46,107.00) rotate(-90)" x="0" y="2.58" font-size="7.6" font-family='"Liberation Sans", sans-serif' fill="#2a2a2a" text-anchor="end" stroke="#2a2a2a" stroke-width="0.12" textLength="13.60" lengthAdjust="spacingAndGlyphs" >TAF1</text>
<line x1="399.76" y1="102.00" x2="399.76" y2="104.00" stroke="#666" stroke-width="0.6" />
<text transform="translate(399.76,107.00) rotate(-90)" x="0" y="2.58" font-size="7.6" font-family='"Liberation Sans", sans-serif' fill="#2a2a2a" text-anchor="end" stroke="#2a2a2a" stroke-width="0.12" textLength="12.75" lengthAdjust="spacingAndGlyphs" >MYC</text>
<line x1="406.08" y1="102.00" x2="406.08" y2="104.00" stroke="#666" stroke-width="0.6" />
<text transform="translate(406.08,107.00) rotate(-90)" x="0" y="2.58" font-size="7.6" font-family='"Liberation Sans", sans-serif' fill="#2a2a2a" text-anchor="end" stroke="#2a2a2a" stroke-width="0.12" textLength="14.35" lengthAdjust="spacingAndGlyphs" >EBF1</text>
<line x1="412.38" y1="102.00" x2="412.38" y2="104.00" stroke="#666" stroke-width="0.6" />
<text transform="translate(412.38,107.00) rotate(-90)" x="0" y="2.58" font-size="7.6" font-family='"Liberation Sans", sans-serif' fill="#2a2a2a" text-anchor="end" stroke="#2a2a2a" stroke-width="0.12" textLength="21.68" lengthAdjust="spacingAndGlyphs" >ZBTB7A</text>
<line x1="418.70" y1="102.00" x2="418.70" y2="104.00" stroke="#666" stroke-width="0.6" />
<text transform="translate(418.70,107.00) rotate(-90)" x="0" y="2.58" font-size="7.6" font-family='"Liberation Sans", sans-serif' fill="#2a2a2a" text-anchor="end" stroke="#2a2a2a" stroke-width="0.12" textLength="15.31" lengthAdjust="spacingAndGlyphs" >XPO1</text>
<line x1="425.00" y1="102.00" x2="425.00" y2="104.00" stroke="#666" stroke-width="0.6" />
<text transform="translate(425.00,107.00) rotate(-90)" x="0" y="2.58" font-size="7.6" font-family='"Liberation Sans", sans-serif' fill="#2a2a2a" text-anchor="end" stroke="#2a2a2a" stroke-width="0.12" textLength="15.62" lengthAdjust="spacingAndGlyphs" >CHD8</text>
<line x1="431.32" y1="102.00" x2="431.32" y2="104.00" stroke="#666" stroke-width="0.6" />
<text transform="translate(431.32,107.00) rotate(-90)" x="0" y="2.58" font-size="7.6" font-family='"Liberation Sans", sans-serif' fill="#2a2a2a" text-anchor="end" stroke="#2a2a2a" stroke-width="0.12" textLength="11.16" lengthAdjust="spacingAndGlyphs" >BTK</text>
<line x1="437.62" y1="102.00" x2="437.62" y2="104.00" stroke="#666" stroke-width="0.6" />
<text transform="translate(437.62,107.00) rotate(-90)" x="0" y="2.58" font-size="7.6" font-family='"Liberation Sans", sans-serif' fill="#2a2a2a" text-anchor="end" stroke="#2a2a2a" stroke-width="0.12" textLength="10.85" lengthAdjust="spacingAndGlyphs" >YY1</text>
<line x1="443.94" y1="102.00" x2="443.94" y2="104.00" stroke="#666" stroke-width="0.6" />
<text transform="translate(443.94,107.00) rotate(-90)" x="0" y="2.58" font-size="7.6" font-family='"Liberation Sans", sans-serif' fill="#2a2a2a" text-anchor="end" stroke="#2a2a2a" stroke-width="0.12" textLength="19.13" lengthAdjust="spacingAndGlyphs" >MYD88</text>
<line x1="450.25" y1="102.00" x2="450.25" y2="104.00" stroke="#666" stroke-width="0.6" />
<text transform="translate(450.25,107.00) rotate(-90)" x="0" y="2.58" font-size="7.6" font-family='"Liberation Sans", sans-serif' fill="#2a2a2a" text-anchor="end" stroke="#2a2a2a" stroke-width="0.12" textLength="16.90" lengthAdjust="spacingAndGlyphs" >IKBKB</text>
<line x1="456.56" y1="102.00" x2="456.56" y2="104.00" stroke="#666" stroke-width="0.6" />
<text transform="translate(456.56,107.00) rotate(-90)" x="0" y="2.58" font-size="7.6" font-family='"Liberation Sans", sans-serif' fill="#2a2a2a" text-anchor="end" stroke="#2a2a2a" stroke-width="0.12" textLength="18.49" lengthAdjust="spacingAndGlyphs" >PTPN6</text>
<line x1="462.87" y1="102.00" x2="462.87" y2="104.00" stroke="#666" stroke-width="0.6" />
<text transform="translate(462.87,107.00) rotate(-90)" x="0" y="2.58" font-size="7.6" font-family='"Liberation Sans", sans-serif' fill="#2a2a2a" text-anchor="end" stroke="#2a2a2a" stroke-width="0.12" textLength="15.31" lengthAdjust="spacingAndGlyphs" >MCL1</text>
<line x1="469.18" y1="102.00" x2="469.18" y2="104.00" stroke="#666" stroke-width="0.6" />
<text transform="translate(469.18,107.00) rotate(-90)" x="0" y="2.58" font-size="7.6" font-family='"Liberation Sans", sans-serif' fill="#2a2a2a" text-anchor="end" stroke="#2a2a2a" stroke-width="0.12" textLength="14.67" lengthAdjust="spacingAndGlyphs" >CD22</text>
<line x1="475.49" y1="102.00" x2="475.49" y2="104.00" stroke="#666" stroke-width="0.6" />
<text transform="translate(475.49,107.00) rotate(-90)" x="0" y="2.58" font-size="7.6" font-family='"Liberation Sans", sans-serif' fill="#2a2a2a" text-anchor="end" stroke="#2a2a2a" stroke-width="0.12" textLength="17.22" lengthAdjust="spacingAndGlyphs" >GNAI2</text>
<line x1="481.80" y1="102.00" x2="481.80" y2="104.00" stroke="#666" stroke-width="0.6" />
<text transform="translate(481.80,107.00) rotate(-90)" x="0" y="2.58" font-size="7.6" font-family='"Liberation Sans", sans-serif' fill="#2a2a2a" text-anchor="end" stroke="#2a2a2a" stroke-width="0.12" textLength="15.30" lengthAdjust="spacingAndGlyphs" >ACTB</text>
<defs><linearGradient id="cb" x1="0" y1="0" x2="0" y2="1"><stop offset="0" stop-color="#67000d"/><stop offset="0.25" stop-color="#a50f15"/><stop offset="0.45" stop-color="#e0322a"/><stop offset="0.7" stop-color="#f6a58c"/><stop offset="1" stop-color="#fff5f0"/></linearGradient></defs>
<rect x="488.70" y="78.50" width="5.40" height="29.80" fill="url(#cb)" />
<line x1="494.10" y1="84.50" x2="495.40" y2="84.50" stroke="#777" stroke-width="0.4" />
<text x="497.60" y="85.72" font-size="3.6" font-family='"Liberation Sans", sans-serif' fill="#444" text-anchor="middle" stroke="#444" stroke-width="0.28" >4</text>
<line x1="494.10" y1="96.20" x2="495.40" y2="96.20" stroke="#777" stroke-width="0.4" />
<text x="497.60" y="97.42" font-size="3.6" font-family='"Liberation Sans", sans-serif' fill="#444" text-anchor="middle" stroke="#444" stroke-width="0.28" >2</text>
<line x1="494.10" y1="107.80" x2="495.40" y2="107.80" stroke="#777" stroke-width="0.4" />
<text x="497.60" y="109.02" font-size="3.6" font-family='"Liberation Sans", sans-serif' fill="#444" text-anchor="middle" stroke="#444" stroke-width="0.28" >0</text>
<text x="192.50" y="12.58" font-size="17" font-family='"Liberation Serif", serif' fill="#222" text-anchor="middle" stroke="#222" stroke-width="0.28" textLength="8.50" lengthAdjust="spacingAndGlyphs" >b</text>
<rect x="537.20" y="8.40" width="144.40" height="38.40" fill="#fff" />
<line x1="537.20" y1="12.50" x2="681.60" y2="12.50" stroke="#f4f4f4" stroke-width="0.6" />
<line x1="537.20" y1="16.60" x2="681.60" y2="16.60" stroke="#f4f4f4" stroke-width="0.6" />
<line x1="537.20" y1="20.70" x2="681.60" y2="20.70" stroke="#f4f4f4" stroke-width="0.6" />
<line x1="537.20" y1="24.80" x2="681.60" y2="24.80" stroke="#f4f4f4" stroke-width="0.6" />
<line x1="537.20" y1="28.90" x2="681.60" y2="28.90" stroke="#f4f4f4" stroke-width="0.6" />
<line x1="537.20" y1="33.00" x2="681.60" y2="33.00" stroke="#f4f4f4" stroke-width="0.6" />
<line x1="537.20" y1="37.10" x2="681.60" y2="37.10" stroke="#f4f4f4" stroke-width="0.6" />
<line x1="537.20" y1="41.20" x2="681.60" y2="41.20" stroke="#f4f4f4" stroke-width="0.6" />
<line x1="537.20" y1="45.30" x2="681.60" y2="45.30" stroke="#f4f4f4" stroke-width="0.6" />
<rect x="537.20" y="51.10" width="144.40" height="65.60" fill="#fff" />
<line x1="537.20" y1="55.20" x2="681.60" y2="55.20" stroke="#f4f4f4" stroke-width="0.6" />
<line x1="537.20" y1="59.30" x2="681.60" y2="59.30" stroke="#f4f4f4" stroke-width="0.6" />
<line x1="537.20" y1="63.40" x2="681.60" y2="63.40" stroke="#f4f4f4" stroke-width="0.6" />
<line x1="537.20" y1="67.50" x2="681.60" y2="67.50" stroke="#f4f4f4" stroke-width="0.6" />
<line x1="537.20" y1="71.60" x2="681.60" y2="71.60" stroke="#f4f4f4" stroke-width="0.6" />
<line x1="537.20" y1="75.70" x2="681.60" y2="75.70" stroke="#f4f4f4" stroke-width="0.6" />
<line x1="537.20" y1="79.80" x2="681.60" y2="79.80" stroke="#f4f4f4" stroke-width="0.6" />
<line x1="537.20" y1="83.90" x2="681.60" y2="83.90" stroke="#f4f4f4" stroke-width="0.6" />
<line x1="537.20" y1="88.00" x2="681.60" y2="88.00" stroke="#f4f4f4" stroke-width="0.6" />
<line x1="537.20" y1="92.10" x2="681.60" y2="92.10" stroke="#f4f4f4" stroke-width="0.6" />
<line x1="537.20" y1="96.20" x2="681.60" y2="96.20" stroke="#f4f4f4" stroke-width="0.6" />
<line x1="537.20" y1="100.30" x2="681.60" y2="100.30" stroke="#f4f4f4" stroke-width="0.6" />
<line x1="537.20" y1="104.40" x2="681.60" y2="104.40" stroke="#f4f4f4" stroke-width="0.6" />
<line x1="537.20" y1="108.50" x2="681.60" y2="108.50" stroke="#f4f4f4" stroke-width="0.6" />
<line x1="537.20" y1="112.60" x2="681.60" y2="112.60" stroke="#f4f4f4" stroke-width="0.6" />
<line x1="537.20" y1="28.40" x2="681.60" y2="28.40" stroke="#e4e4e4" stroke-width="0.8" />
<line x1="537.20" y1="67.40" x2="681.60" y2="67.40" stroke="#e2e2e2" stroke-width="0.8" />
<line x1="537.20" y1="100.40" x2="681.60" y2="100.40" stroke="#e2e2e2" stroke-width="0.8" />
<line x1="537.20" y1="83.90" x2="681.60" y2="83.90" stroke="#ececec" stroke-width="0.7" />
<line x1="566.20" y1="8.40" x2="566.20" y2="46.80" stroke="#e6e6e6" stroke-width="0.8" />
<line x1="566.20" y1="51.10" x2="566.20" y2="116.70" stroke="#e6e6e6" stroke-width="0.8" />
<line x1="594.50" y1="8.40" x2="594.50" y2="46.80" stroke="#e6e6e6" stroke-width="0.8" />
<line x1="594.50" y1="51.10" x2="594.50" y2="116.70" stroke="#e6e6e6" stroke-width="0.8" />
<line x1="623.40" y1="8.40" x2="623.40" y2="46.80" stroke="#e6e6e6" stroke-width="0.8" />
<line x1="623.40" y1="51.10" x2="623.40" y2="116.70" stroke="#e6e6e6" stroke-width="0.8" />
<line x1="652.40" y1="8.40" x2="652.40" y2="46.80" stroke="#e6e6e6" stroke-width="0.8" />
<line x1="652.40" y1="51.10" x2="652.40" y2="116.70" stroke="#e6e6e6" stroke-width="0.8" />
<rect x="537.2" y="8.4" width="144.39999999999998" height="38.4" fill="none" stroke="#e0e0e0" stroke-width="0.8"/>
<rect x="537.2" y="51.1" width="144.39999999999998" height="65.6" fill="none" stroke="#e0e0e0" stroke-width="0.8"/>
<rect x="547.60" y="109.50" width="8.40" height="7.20" fill="#bdbdbd" />
<rect x="576.40" y="92.50" width="8.40" height="24.20" fill="#b3dcf3" />
<rect x="604.90" y="74.90" width="8.80" height="41.80" fill="#5ea7ee" />
<rect x="633.60" y="65.10" width="8.60" height="51.60" fill="#ecd3d6" />
<rect x="662.40" y="51.10" width="8.60" height="65.60" fill="#e8a5ad" />
<rect x="662.40" y="30.10" width="8.60" height="16.70" fill="#e8a5ad" />
<text x="580.60" y="92.09" font-size="8.5" font-family='"Liberation Serif", serif' fill="#333" text-anchor="middle" stroke="#333" stroke-width="0.28" textLength="7.50" lengthAdjust="spacingAndGlyphs" >**</text>
<text x="609.30" y="74.59" font-size="8.5" font-family='"Liberation Serif", serif' fill="#333" text-anchor="middle" stroke="#333" stroke-width="0.28" textLength="7.50" lengthAdjust="spacingAndGlyphs" >**</text>
<text x="637.90" y="65.39" font-size="8.5" font-family='"Liberation Serif", serif' fill="#333" text-anchor="middle" stroke="#333" stroke-width="0.28" textLength="7.50" lengthAdjust="spacingAndGlyphs" >**</text>
<text x="666.70" y="29.09" font-size="8.5" font-family='"Liberation Serif", serif' fill="#333" text-anchor="middle" stroke="#333" stroke-width="0.28" textLength="7.50" lengthAdjust="spacingAndGlyphs" >**</text>
<text x="534.40" y="31.19" font-size="7.9" font-family='"Liberation Serif", serif' fill="#222" text-anchor="end" stroke="#222" stroke-width="0.14" textLength="7.60" lengthAdjust="spacingAndGlyphs" >65</text>
<text x="534.40" y="71.29" font-size="7.9" font-family='"Liberation Serif", serif' fill="#222" text-anchor="end" stroke="#222" stroke-width="0.14" textLength="7.60" lengthAdjust="spacingAndGlyphs" >15</text>
<text x="534.40" y="103.89" font-size="7.9" font-family='"Liberation Serif", serif' fill="#222" text-anchor="end" stroke="#222" stroke-width="0.14" >5</text>
<text transform="translate(512.80,64.30) rotate(-90)" x="0" y="2.79" font-size="8.2" font-family='"Liberation Serif", serif' fill="#222" text-anchor="middle" stroke="#222" stroke-width="0.28" textLength="104.00" lengthAdjust="spacingAndGlyphs" >Fraction of elements overlapping</text>
<text transform="translate(522.00,66.00) rotate(-90)" x="0" y="2.79" font-size="8.2" font-family='"Liberation Serif", serif' fill="#222" text-anchor="middle" stroke="#222" stroke-width="0.28" textLength="72.00" lengthAdjust="spacingAndGlyphs" >with DLBCL SEs (%)</text>
<text x="550.80" y="128.22" font-size="8.6" font-family='"Liberation Serif", serif' fill="#222" text-anchor="middle" stroke="#222" stroke-width="0.28" textLength="11.50" lengthAdjust="spacingAndGlyphs" >BK</text>
<text x="580.20" y="128.22" font-size="8.6" font-family='"Liberation Serif", serif' fill="#222" text-anchor="middle" stroke="#222" stroke-width="0.28" textLength="10.50" lengthAdjust="spacingAndGlyphs" >TS</text>
<text x="609.20" y="128.22" font-size="8.6" font-family='"Liberation Serif", serif' fill="#222" text-anchor="middle" stroke="#222" stroke-width="0.28" textLength="29.00" lengthAdjust="spacingAndGlyphs" >SS comp</text>
<text x="637.90" y="128.22" font-size="8.6" font-family='"Liberation Serif", serif' fill="#222" text-anchor="middle" stroke="#222" stroke-width="0.28" textLength="10.50" lengthAdjust="spacingAndGlyphs" >TE</text>
<text x="666.90" y="128.22" font-size="8.6" font-family='"Liberation Serif", serif' fill="#222" text-anchor="middle" stroke="#222" stroke-width="0.28" textLength="29.50" lengthAdjust="spacingAndGlyphs" >SE comp</text>
<text x="505.00" y="11.36" font-size="14" font-family='"Liberation Serif", serif' fill="#222" text-anchor="middle" font-weight="bold" textLength="6.60" lengthAdjust="spacingAndGlyphs" >c</text>
<rect x="25.40" y="158.20" width="171.00" height="136.60" fill="#fff" />
<line x1="25.40" y1="289.62" x2="196.40" y2="289.62" stroke="#e6e6e6" stroke-width="0.6" />
<line x1="25.40" y1="283.71" x2="196.40" y2="283.71" stroke="#efefef" stroke-width="0.6" />
<line x1="25.40" y1="277.80" x2="196.40" y2="277.80" stroke="#e6e6e6" stroke-width="0.6" />
<line x1="25.40" y1="271.89" x2="196.40" y2="271.89" stroke="#efefef" stroke-width="0.6" />
<line x1="25.40" y1="265.98" x2="196.40" y2="265.98" stroke="#e6e6e6" stroke-width="0.6" />
<line x1="25.40" y1="260.06" x2="196.40" y2="260.06" stroke="#efefef" stroke-width="0.6" />
<line x1="25.40" y1="254.15" x2="196.40" y2="254.15" stroke="#e6e6e6" stroke-width="0.6" />
<line x1="25.40" y1="248.24" x2="196.40" y2="248.24" stroke="#efefef" stroke-width="0.6" />
<line x1="25.40" y1="242.33" x2="196.40" y2="242.33" stroke="#e6e6e6" stroke-width="0.6" />
<line x1="25.40" y1="236.41" x2="196.40" y2="236.41" stroke="#efefef" stroke-width="0.6" />
<line x1="25.40" y1="230.50" x2="196.40" y2="230.50" stroke="#e6e6e6" stroke-width="0.6" />
<line x1="25.40" y1="224.59" x2="196.40" y2="224.59" stroke="#efefef" stroke-width="0.6" />
<line x1="25.40" y1="218.68" x2="196.40" y2="218.68" stroke="#e6e6e6" stroke-width="0.6" />
<line x1="25.40" y1="212.76" x2="196.40" y2="212.76" stroke="#efefef" stroke-width="0.6" />
<line x1="25.40" y1="206.85" x2="196.40" y2="206.85" stroke="#e6e6e6" stroke-width="0.6" />
<line x1="25.40" y1="200.94" x2="196.40" y2="200.94" stroke="#efefef" stroke-width="0.6" />
<line x1="25.40" y1="195.03" x2="196.40" y2="195.03" stroke="#e6e6e6" stroke-width="0.6" />
<line x1="25.40" y1="189.11" x2="196.40" y2="189.11" stroke="#efefef" stroke-width="0.6" />
<line x1="25.40" y1="183.20" x2="196.40" y2="183.20" stroke="#e6e6e6" stroke-width="0.6" />
<line x1="25.40" y1="177.29" x2="196.40" y2="177.29" stroke="#efefef" stroke-width="0.6" />
<line x1="25.40" y1="171.38" x2="196.40" y2="171.38" stroke="#e6e6e6" stroke-width="0.6" />
<line x1="25.40" y1="165.46" x2="196.40" y2="165.46" stroke="#efefef" stroke-width="0.6" />
<line x1="25.40" y1="159.55" x2="196.40" y2="159.55" stroke="#e6e6e6" stroke-width="0.6" />
<line x1="47.50" y1="158.20" x2="47.50" y2="294.80" stroke="#e8e8e8" stroke-width="0.7" />
<line x1="63.20" y1="158.20" x2="63.20" y2="294.80" stroke="#e8e8e8" stroke-width="0.7" />
<line x1="79.10" y1="158.20" x2="79.10" y2="294.80" stroke="#e8e8e8" stroke-width="0.7" />
<line x1="94.70" y1="158.20" x2="94.70" y2="294.80" stroke="#e8e8e8" stroke-width="0.7" />
<line x1="111.00" y1="158.20" x2="111.00" y2="294.80" stroke="#e8e8e8" stroke-width="0.7" />
<line x1="126.30" y1="158.20" x2="126.30" y2="294.80" stroke="#e8e8e8" stroke-width="0.7" />
<line x1="142.80" y1="158.20" x2="142.80" y2="294.80" stroke="#e8e8e8" stroke-width="0.7" />
<line x1="157.90" y1="158.20" x2="157.90" y2="294.80" stroke="#e8e8e8" stroke-width="0.7" />
<line x1="174.30" y1="158.20" x2="174.30" y2="294.80" stroke="#e8e8e8" stroke-width="0.7" />
<line x1="25.40" y1="229.50" x2="196.40" y2="229.50" stroke="#808080" stroke-width="1.6" stroke-dasharray="2.4,1.4"/>
<polygon points="48.00,229.50 48.20,250.00 48.70,262.00 49.40,268.90 51.20,275.80 53.90,282.70 55.50,285.50 57.10,287.60 57.00,288.80 55.70,289.50 39.70,289.50 38.40,288.80 38.30,287.60 39.90,285.50 41.50,282.70 44.20,275.80 46.00,268.90 46.70,262.00 47.20,250.00 47.40,229.50" fill="#e3e3e3" stroke="none"/>
<polygon points="79.60,183.20 79.70,230.00 80.00,250.00 80.40,261.90 81.60,268.90 83.70,275.80 86.50,282.70 87.80,285.50 88.90,287.60 88.70,288.80 87.20,289.50 71.20,289.50 69.70,288.80 69.50,287.60 70.60,285.50 71.90,282.70 74.70,275.80 76.80,268.90 78.00,261.90 78.40,250.00 78.70,230.00 78.80,183.20" fill="#b6d6ea" stroke="none"/>
<polygon points="111.20,183.20 111.40,187.00 112.40,196.00 113.40,207.00 113.90,215.00 113.40,222.50 112.80,230.00 112.40,240.00 112.70,250.00 113.00,255.00 115.00,261.90 116.70,268.90 118.40,275.80 119.80,282.70 120.30,287.60 120.10,288.80 118.80,289.50 102.80,289.50 101.50,288.80 101.30,287.60 101.80,282.70 103.20,275.80 104.90,268.90 106.60,261.90 108.60,255.00 108.90,250.00 109.20,240.00 108.80,230.00 108.20,222.50 107.70,215.00 108.20,207.00 109.20,196.00 110.20,187.00 110.40,183.20" fill="#5b9bd5" stroke="none"/>
<polygon points="142.95,183.20 143.10,240.00 144.25,256.00 145.35,267.00 147.80,278.00 150.00,283.60 152.00,288.00 151.60,289.00 150.10,289.50 135.10,289.50 133.60,289.00 133.20,288.00 135.20,283.60 137.40,278.00 139.85,267.00 140.95,256.00 142.10,240.00 142.25,183.20" fill="#ead6d6" stroke="none"/>
<polygon points="174.70,183.20 175.40,190.00 176.10,196.00 176.70,203.00 177.20,209.00 177.80,216.00 178.40,222.50 178.90,229.00 179.40,235.00 179.90,241.00 180.30,247.00 180.80,252.00 180.80,256.00 181.20,260.00 181.20,264.00 181.50,268.00 181.90,272.00 182.60,277.00 183.10,283.00 183.60,287.50 183.50,289.00 182.70,289.50 165.70,289.50 164.90,289.00 164.80,287.50 165.30,283.00 165.80,277.00 166.50,272.00 166.90,268.00 167.20,264.00 167.20,260.00 167.60,256.00 167.60,252.00 168.10,247.00 168.50,241.00 169.00,235.00 169.50,229.00 170.00,222.50 170.60,216.00 171.20,209.00 171.70,203.00 172.30,196.00 173.00,190.00 173.70,183.20" fill="#e0a6a6" stroke="none"/>
<line x1="47.70" y1="229.50" x2="47.70" y2="289.40" stroke="#a0a0a0" stroke-width="0.8" />
<rect x="46.75" y="265.00" width="1.90" height="24.40" fill="#4d4d4d" />
<line x1="79.20" y1="206.30" x2="79.20" y2="289.40" stroke="#666" stroke-width="0.8" />
<rect x="78.25" y="252.50" width="1.90" height="36.90" fill="#4d4d4d" />
<line x1="78.25" y1="277.20" x2="80.15" y2="277.20" stroke="#fff" stroke-width="0.8" />
<line x1="110.80" y1="186.50" x2="110.80" y2="289.40" stroke="#666" stroke-width="0.8" />
<rect x="109.85" y="241.30" width="1.90" height="48.10" fill="#4d4d4d" />
<line x1="109.85" y1="277.40" x2="111.75" y2="277.40" stroke="#fff" stroke-width="0.8" />
<line x1="142.60" y1="206.30" x2="142.60" y2="289.40" stroke="#666" stroke-width="0.8" />
<rect x="141.65" y="253.30" width="1.90" height="36.10" fill="#4d4d4d" />
<line x1="141.65" y1="277.30" x2="143.55" y2="277.30" stroke="#fff" stroke-width="0.8" />
<line x1="174.20" y1="183.20" x2="174.20" y2="289.40" stroke="#666" stroke-width="0.8" />
<rect x="173.25" y="229.50" width="1.90" height="48.50" fill="#4d4d4d" />
<line x1="173.25" y1="253.30" x2="175.15" y2="253.30" stroke="#fff" stroke-width="0.8" />
<rect x="25.4" y="158.2" width="171.0" height="136.60000000000002" fill="none" stroke="#8c8c8c" stroke-width="0.8"/>
<text x="48.60" y="226.65" font-size="7.8" font-family='"Liberation Serif", serif' fill="#222" text-anchor="middle" stroke="#222" stroke-width="0.28" textLength="11.50" lengthAdjust="spacingAndGlyphs" >10%</text>
<text x="88.40" y="226.65" font-size="7.8" font-family='"Liberation Serif", serif' fill="#222" text-anchor="middle" stroke="#222" stroke-width="0.28" textLength="11.50" lengthAdjust="spacingAndGlyphs" >13%</text>
<text x="119.70" y="226.65" font-size="7.8" font-family='"Liberation Serif", serif' fill="#222" text-anchor="middle" stroke="#222" stroke-width="0.28" textLength="11.50" lengthAdjust="spacingAndGlyphs" >22%</text>
<text x="151.00" y="226.65" font-size="7.8" font-family='"Liberation Serif", serif' fill="#222" text-anchor="middle" stroke="#222" stroke-width="0.28" textLength="11.50" lengthAdjust="spacingAndGlyphs" >15%</text>
<text x="183.80" y="226.65" font-size="7.8" font-family='"Liberation Serif", serif' fill="#222" text-anchor="middle" stroke="#222" stroke-width="0.28" textLength="11.50" lengthAdjust="spacingAndGlyphs" >32%</text>
<text x="74.3" y="191.0" font-size="7.4" font-family='"Liberation Serif", serif' fill="#222" stroke="#222" stroke-width="0.2" text-anchor="middle" textLength="24.5" lengthAdjust="spacingAndGlyphs"><tspan font-style="italic">P</tspan> = 10</text>
<text x="86.60" y="188.10" font-size="5.0" font-family='"Liberation Serif", serif' fill="#222" text-anchor="start" stroke="#222" stroke-width="0.28" textLength="5.20" lengthAdjust="spacingAndGlyphs" >−7</text>
<text x="111.00" y="184.20" font-size="10" font-family='"Liberation Serif", serif' fill="#333" text-anchor="middle" stroke="#333" stroke-width="0.28" textLength="7.20" lengthAdjust="spacingAndGlyphs" >**</text>
<text x="143.00" y="184.20" font-size="10" font-family='"Liberation Serif", serif' fill="#333" text-anchor="middle" stroke="#333" stroke-width="0.28" textLength="7.20" lengthAdjust="spacingAndGlyphs" >**</text>
<text x="174.50" y="184.20" font-size="10" font-family='"Liberation Serif", serif' fill="#333" text-anchor="middle" stroke="#333" stroke-width="0.28" textLength="7.20" lengthAdjust="spacingAndGlyphs" >**</text>
<line x1="79.20" y1="176.20" x2="143.00" y2="176.20" stroke="#666" stroke-width="0.6" />
<line x1="79.20" y1="176.20" x2="79.20" y2="177.80" stroke="#666" stroke-width="0.6" />
<line x1="143.00" y1="176.20" x2="143.00" y2="177.80" stroke="#666" stroke-width="0.6" />
<text x="96.40" y="176.30" font-size="10" font-family='"Liberation Serif", serif' fill="#333" text-anchor="middle" stroke="#333" stroke-width="0.28" textLength="7.20" lengthAdjust="spacingAndGlyphs" >**</text>
<text x="126.90" y="176.30" font-size="10" font-family='"Liberation Serif", serif' fill="#333" text-anchor="middle" stroke="#333" stroke-width="0.28" textLength="7.20" lengthAdjust="spacingAndGlyphs" >**</text>
<line x1="110.90" y1="167.30" x2="174.80" y2="167.30" stroke="#666" stroke-width="0.6" />
<line x1="110.90" y1="167.30" x2="110.90" y2="168.90" stroke="#666" stroke-width="0.6" />
<line x1="174.80" y1="167.30" x2="174.80" y2="168.90" stroke="#666" stroke-width="0.6" />
<text x="140.30" y="167.10" font-size="10" font-family='"Liberation Serif", serif' fill="#333" text-anchor="middle" stroke="#333" stroke-width="0.28" textLength="7.20" lengthAdjust="spacingAndGlyphs" >**</text>
<text x="23.50" y="186.19" font-size="8.2" font-family='"Liberation Serif", serif' fill="#222" text-anchor="end" stroke="#222" stroke-width="0.14" textLength="8.20" lengthAdjust="spacingAndGlyphs" >10</text>
<text x="23.00" y="232.39" font-size="8.2" font-family='"Liberation Serif", serif' fill="#222" text-anchor="end" stroke="#222" stroke-width="0.14" >6</text>
<text x="23.00" y="280.69" font-size="8.2" font-family='"Liberation Serif", serif' fill="#222" text-anchor="end" stroke="#222" stroke-width="0.14" >2</text>
<text transform="translate(9.00,227.40) rotate(-90)" x="0" y="2.79" font-size="8.2" font-family='"Liberation Serif", serif' fill="#222" text-anchor="middle" stroke="#222" stroke-width="0.28" textLength="58.80" lengthAdjust="spacingAndGlyphs" >#DLBCL samples</text>
<text x="47.50" y="301.69" font-size="8.2" font-family='"Liberation Serif", serif' fill="#222" text-anchor="middle" stroke="#222" stroke-width="0.28" textLength="10.00" lengthAdjust="spacingAndGlyphs" >SE</text>
<text x="79.10" y="301.69" font-size="8.2" font-family='"Liberation Serif", serif' fill="#222" text-anchor="middle" stroke="#222" stroke-width="0.28" textLength="27.00" lengthAdjust="spacingAndGlyphs" >TS-to-SE</text>
<text x="110.40" y="301.69" font-size="8.2" font-family='"Liberation Serif", serif' fill="#222" text-anchor="middle" stroke="#222" stroke-width="0.28" textLength="27.00" lengthAdjust="spacingAndGlyphs" >SS-to-SE</text>
<text x="142.80" y="301.69" font-size="8.2" font-family='"Liberation Serif", serif' fill="#222" text-anchor="middle" stroke="#222" stroke-width="0.28" textLength="27.00" lengthAdjust="spacingAndGlyphs" >TE-to-SE</text>
<text x="174.30" y="301.69" font-size="8.2" font-family='"Liberation Serif", serif' fill="#222" text-anchor="middle" stroke="#222" stroke-width="0.28" textLength="27.00" lengthAdjust="spacingAndGlyphs" >SE-to-SE</text>
<text x="4.80" y="164.16" font-size="14" font-family='"Liberation Serif", serif' fill="#222" text-anchor="middle" stroke="#222" stroke-width="0.28" textLength="7.00" lengthAdjust="spacingAndGlyphs" >d</text>
<rect x="246.60" y="157.60" width="220.10" height="135.30" fill="#fff" />
<line x1="246.60" y1="278.50" x2="466.70" y2="278.50" stroke="#e4e4e4" stroke-width="0.7" />
<line x1="246.60" y1="263.45" x2="466.70" y2="263.45" stroke="#efefef" stroke-width="0.7" />
<line x1="246.60" y1="248.40" x2="466.70" y2="248.40" stroke="#e4e4e4" stroke-width="0.7" />
<line x1="246.60" y1="233.35" x2="466.70" y2="233.35" stroke="#efefef" stroke-width="0.7" />
<line x1="246.60" y1="218.30" x2="466.70" y2="218.30" stroke="#e4e4e4" stroke-width="0.7" />
<line x1="246.60" y1="203.25" x2="466.70" y2="203.25" stroke="#efefef" stroke-width="0.7" />
<line x1="246.60" y1="188.20" x2="466.70" y2="188.20" stroke="#e4e4e4" stroke-width="0.7" />
<line x1="246.60" y1="173.15" x2="466.70" y2="173.15" stroke="#efefef" stroke-width="0.7" />
<line x1="246.60" y1="158.10" x2="466.70" y2="158.10" stroke="#e4e4e4" stroke-width="0.7" />
<line x1="246.60" y1="286.02" x2="466.70" y2="286.02" stroke="#f5f5f5" stroke-width="0.5" />
<line x1="246.60" y1="270.98" x2="466.70" y2="270.98" stroke="#f5f5f5" stroke-width="0.5" />
<line x1="246.60" y1="255.93" x2="466.70" y2="255.93" stroke="#f5f5f5" stroke-width="0.5" />
<line x1="246.60" y1="240.88" x2="466.70" y2="240.88" stroke="#f5f5f5" stroke-width="0.5" />
<line x1="246.60" y1="225.82" x2="466.70" y2="225.82" stroke="#f5f5f5" stroke-width="0.5" />
<line x1="246.60" y1="210.78" x2="466.70" y2="210.78" stroke="#f5f5f5" stroke-width="0.5" />
<line x1="246.60" y1="195.72" x2="466.70" y2="195.72" stroke="#f5f5f5" stroke-width="0.5" />
<line x1="246.60" y1="180.68" x2="466.70" y2="180.68" stroke="#f5f5f5" stroke-width="0.5" />
<line x1="246.60" y1="165.62" x2="466.70" y2="165.62" stroke="#f5f5f5" stroke-width="0.5" />
<line x1="285.50" y1="157.60" x2="285.50" y2="292.90" stroke="#e6e6e6" stroke-width="0.7" />
<line x1="320.60" y1="157.60" x2="320.60" y2="292.90" stroke="#e6e6e6" stroke-width="0.7" />
<line x1="356.10" y1="157.60" x2="356.10" y2="292.90" stroke="#e6e6e6" stroke-width="0.7" />
<line x1="391.60" y1="157.60" x2="391.60" y2="292.90" stroke="#e6e6e6" stroke-width="0.7" />
<line x1="427.70" y1="157.60" x2="427.70" y2="292.90" stroke="#e6e6e6" stroke-width="0.7" />
<defs><pattern id="hatch" width="1.6" height="1.6" patternUnits="userSpaceOnUse"><rect width="1.6" height="1.6" fill="#f6f6f6"/><path d="M0,1.6 L1.6,0" stroke="#aaa" stroke-width="0.35"/></pattern></defs>
<line x1="259.00" y1="278.30" x2="268.50" y2="278.30" stroke="#e84a4a" stroke-width="1.1" />
<line x1="268.50" y1="278.30" x2="277.00" y2="278.30" stroke="#555" stroke-width="1.1" />
<line x1="298.50" y1="204.50" x2="298.50" y2="244.10" stroke="#8f8f8f" stroke-width="0.9" />
<line x1="298.50" y1="269.70" x2="298.50" y2="276.50" stroke="#8f8f8f" stroke-width="0.9" />
<line x1="296.90" y1="204.50" x2="300.10" y2="204.50" stroke="#8f8f8f" stroke-width="0.9" />
<line x1="296.90" y1="276.50" x2="300.10" y2="276.50" stroke="#8f8f8f" stroke-width="0.9" />
<rect x="294.30" y="244.10" width="8.40" height="25.60" fill="#e2e2e2" />
<line x1="294.30" y1="261.70" x2="302.70" y2="261.70" stroke="#e33" stroke-width="1.0" />
<line x1="334.00" y1="223.40" x2="334.00" y2="252.30" stroke="#a6d0f0" stroke-width="0.9" />
<line x1="334.00" y1="271.60" x2="334.00" y2="276.50" stroke="#a6d0f0" stroke-width="0.9" />
<line x1="332.40" y1="223.40" x2="335.60" y2="223.40" stroke="#a6d0f0" stroke-width="0.9" />
<line x1="332.40" y1="276.50" x2="335.60" y2="276.50" stroke="#a6d0f0" stroke-width="0.9" />
<rect x="329.70" y="252.30" width="8.60" height="19.30" fill="#b5dcef" />
<line x1="329.70" y1="265.50" x2="338.30" y2="265.50" stroke="#e33" stroke-width="1.0" />
<line x1="369.50" y1="180.40" x2="369.50" y2="219.70" stroke="#4a68d8" stroke-width="0.9" />
<line x1="369.50" y1="260.50" x2="369.50" y2="274.80" stroke="#4a68d8" stroke-width="0.9" />
<line x1="367.90" y1="180.40" x2="371.10" y2="180.40" stroke="#4a68d8" stroke-width="0.9" />
<line x1="367.90" y1="274.80" x2="371.10" y2="274.80" stroke="#4a68d8" stroke-width="0.9" />
<rect x="365.20" y="219.70" width="8.60" height="40.80" fill="#6aaef0" />
<line x1="365.20" y1="254.30" x2="373.80" y2="254.30" stroke="#e33" stroke-width="1.0" />
<line x1="404.70" y1="215.50" x2="404.70" y2="249.50" stroke="#efc6c6" stroke-width="0.9" />
<line x1="404.70" y1="271.00" x2="404.70" y2="276.70" stroke="#efc6c6" stroke-width="0.9" />
<line x1="403.10" y1="215.50" x2="406.30" y2="215.50" stroke="#efc6c6" stroke-width="0.9" />
<line x1="403.10" y1="276.70" x2="406.30" y2="276.70" stroke="#efc6c6" stroke-width="0.9" />
<rect x="400.60" y="249.50" width="8.20" height="21.50" fill="#edd5d5" />
<line x1="400.60" y1="263.40" x2="408.80" y2="263.40" stroke="#e33" stroke-width="1.0" />
<line x1="440.60" y1="210.70" x2="440.60" y2="245.70" stroke="#dd6677" stroke-width="0.9" />
<line x1="440.60" y1="271.50" x2="440.60" y2="276.70" stroke="#dd6677" stroke-width="0.9" />
<line x1="439.00" y1="210.70" x2="442.20" y2="210.70" stroke="#dd6677" stroke-width="0.9" />
<line x1="439.00" y1="276.70" x2="442.20" y2="276.70" stroke="#dd6677" stroke-width="0.9" />
<rect x="436.30" y="245.70" width="8.60" height="25.80" fill="#e8a8a8" />
<line x1="436.30" y1="264.30" x2="444.90" y2="264.30" stroke="#e33" stroke-width="1.0" />
<line x1="307.50" y1="270.30" x2="307.50" y2="275.00" stroke="#555" stroke-width="0.9" />
<line x1="307.50" y1="277.40" x2="307.50" y2="278.30" stroke="#555" stroke-width="0.9" />
<line x1="305.90" y1="270.30" x2="309.10" y2="270.30" stroke="#555" stroke-width="0.9" />
<line x1="305.90" y1="278.30" x2="309.10" y2="278.30" stroke="#555" stroke-width="0.9" />
<rect x="303.30" y="275.00" width="8.40" height="2.40" fill="url(#hatch)" stroke="#666" stroke-width="0.5"/>
<line x1="303.30" y1="276.30" x2="311.70" y2="276.30" stroke="#333" stroke-width="1.0" />
<line x1="343.20" y1="270.90" x2="343.20" y2="275.50" stroke="#8fc6ef" stroke-width="0.9" />
<line x1="343.20" y1="278.00" x2="343.20" y2="278.50" stroke="#8fc6ef" stroke-width="0.9" />
<line x1="341.60" y1="270.90" x2="344.80" y2="270.90" stroke="#8fc6ef" stroke-width="0.9" />
<line x1="341.60" y1="278.50" x2="344.80" y2="278.50" stroke="#8fc6ef" stroke-width="0.9" />
<rect x="338.90" y="275.50" width="8.60" height="2.50" fill="url(#hatch)" stroke="#8fc6ef" stroke-width="0.5"/>
<line x1="338.90" y1="276.60" x2="347.50" y2="276.60" stroke="#555" stroke-width="1.0" />
<line x1="378.60" y1="264.70" x2="378.60" y2="271.00" stroke="#4a68d8" stroke-width="0.9" />
<line x1="378.60" y1="276.70" x2="378.60" y2="278.00" stroke="#4a68d8" stroke-width="0.9" />
<line x1="377.00" y1="264.70" x2="380.20" y2="264.70" stroke="#4a68d8" stroke-width="0.9" />
<line x1="377.00" y1="278.00" x2="380.20" y2="278.00" stroke="#4a68d8" stroke-width="0.9" />
<rect x="374.20" y="271.00" width="8.80" height="5.70" fill="url(#hatch)" stroke="#4a90e0" stroke-width="0.5"/>
<line x1="374.20" y1="272.90" x2="383.00" y2="272.90" stroke="#333" stroke-width="1.0" />
<line x1="413.60" y1="272.30" x2="413.60" y2="274.60" stroke="#e8b8b8" stroke-width="0.9" />
<line x1="413.60" y1="277.30" x2="413.60" y2="278.30" stroke="#e8b8b8" stroke-width="0.9" />
<line x1="412.00" y1="272.30" x2="415.20" y2="272.30" stroke="#e8b8b8" stroke-width="0.9" />
<line x1="412.00" y1="278.30" x2="415.20" y2="278.30" stroke="#e8b8b8" stroke-width="0.9" />
<rect x="409.20" y="274.60" width="8.80" height="2.70" fill="url(#hatch)" stroke="#e0b0b0" stroke-width="0.5"/>
<line x1="409.20" y1="276.00" x2="418.00" y2="276.00" stroke="#555" stroke-width="1.0" />
<line x1="449.70" y1="270.00" x2="449.70" y2="274.20" stroke="#dd6677" stroke-width="0.9" />
<line x1="449.70" y1="277.50" x2="449.70" y2="278.40" stroke="#dd6677" stroke-width="0.9" />
<line x1="448.10" y1="270.00" x2="451.30" y2="270.00" stroke="#dd6677" stroke-width="0.9" />
<line x1="448.10" y1="278.40" x2="451.30" y2="278.40" stroke="#dd6677" stroke-width="0.9" />
<rect x="445.50" y="274.20" width="8.40" height="3.30" fill="url(#hatch)" stroke="#dd6677" stroke-width="0.5"/>
<line x1="445.50" y1="275.80" x2="453.90" y2="275.80" stroke="#333" stroke-width="1.0" />
<rect x="246.6" y="157.6" width="220.1" height="135.29999999999998" fill="none" stroke="#7a7a7a" stroke-width="0.8"/>
<rect x="386.10" y="161.90" width="12.70" height="4.80" fill="#cfcfcf" />
<text x="412.80" y="166.54" font-size="6.6" font-family='"Liberation Sans", sans-serif' fill="#333" text-anchor="middle" stroke="#333" stroke-width="0.28" textLength="18.40" lengthAdjust="spacingAndGlyphs" >DMSO</text>
<rect x="434.90" y="161.90" width="12.90" height="4.80" fill="url(#hatch)" stroke="#888" stroke-width="0.4"/>
<text x="458.30" y="166.54" font-size="6.6" font-family='"Liberation Sans", sans-serif' fill="#333" text-anchor="middle" stroke="#333" stroke-width="0.28" textLength="10.00" lengthAdjust="spacingAndGlyphs" >JQ1</text>
<line x1="297.70" y1="172.80" x2="368.80" y2="172.80" stroke="#777" stroke-width="0.6" />
<line x1="297.70" y1="172.80" x2="297.70" y2="174.40" stroke="#777" stroke-width="0.6" />
<line x1="368.80" y1="172.80" x2="368.80" y2="174.40" stroke="#777" stroke-width="0.6" />
<text x="332.6" y="169.7" font-size="8.0" font-family='"Liberation Serif", serif' fill="#222" stroke="#222" stroke-width="0.3" text-anchor="middle" textLength="32" lengthAdjust="spacingAndGlyphs"><tspan font-style="italic">P</tspan> = 0.002</text>
<text x="240.80" y="190.99" font-size="8.2" font-family='"Liberation Serif", serif' fill="#222" text-anchor="end" stroke="#222" stroke-width="0.14" textLength="14.50" lengthAdjust="spacingAndGlyphs" >0.06</text>
<text x="240.80" y="221.09" font-size="8.2" font-family='"Liberation Serif", serif' fill="#222" text-anchor="end" stroke="#222" stroke-width="0.14" textLength="14.50" lengthAdjust="spacingAndGlyphs" >0.04</text>
<text x="240.80" y="251.19" font-size="8.2" font-family='"Liberation Serif", serif' fill="#222" text-anchor="end" stroke="#222" stroke-width="0.14" textLength="14.50" lengthAdjust="spacingAndGlyphs" >0.02</text>
<text x="235.80" y="281.29" font-size="8.2" font-family='"Liberation Serif", serif' fill="#222" text-anchor="middle" stroke="#222" stroke-width="0.14" >0</text>
<text transform="translate(218.20,229.70) rotate(-90)" x="0" y="2.69" font-size="7.9" font-family='"Liberation Serif", serif' fill="#222" text-anchor="middle" stroke="#222" stroke-width="0.28" textLength="117.00" lengthAdjust="spacingAndGlyphs" >BRD4 ChIP-seq intensity in DLBCL</text>
<text x="270.00" y="300.92" font-size="8.3" font-family='"Liberation Serif", serif' fill="#222" text-anchor="middle" stroke="#222" stroke-width="0.28" textLength="11.00" lengthAdjust="spacingAndGlyphs" >BK</text>
<text x="302.60" y="300.92" font-size="8.3" font-family='"Liberation Serif", serif' fill="#222" text-anchor="middle" stroke="#222" stroke-width="0.28" textLength="10.00" lengthAdjust="spacingAndGlyphs" >SE</text>
<text x="337.70" y="300.92" font-size="8.3" font-family='"Liberation Serif", serif' fill="#222" text-anchor="middle" stroke="#222" stroke-width="0.28" textLength="28.00" lengthAdjust="spacingAndGlyphs" >TS-to-SE</text>
<text x="374.20" y="300.92" font-size="8.3" font-family='"Liberation Serif", serif' fill="#222" text-anchor="middle" stroke="#222" stroke-width="0.28" textLength="28.00" lengthAdjust="spacingAndGlyphs" >SS-to-SE</text>
<text x="409.30" y="300.92" font-size="8.3" font-family='"Liberation Serif", serif' fill="#222" text-anchor="middle" stroke="#222" stroke-width="0.28" textLength="28.00" lengthAdjust="spacingAndGlyphs" >TE-to-SE</text>
<text x="446.30" y="300.92" font-size="8.3" font-family='"Liberation Serif", serif' fill="#222" text-anchor="middle" stroke="#222" stroke-width="0.28" textLength="28.00" lengthAdjust="spacingAndGlyphs" >SE-to-SE</text>
<text x="217.00" y="166.94" font-size="16" font-family='"Liberation Serif", serif' fill="#222" text-anchor="middle" font-weight="bold" textLength="7.50" lengthAdjust="spacingAndGlyphs" >e</text>
<rect x="510.00" y="157.00" width="169.60" height="136.50" fill="#fff" />
<line x1="510.00" y1="288.15" x2="679.60" y2="288.15" stroke="#f4f4f4" stroke-width="0.6" />
<line x1="510.00" y1="282.70" x2="679.60" y2="282.70" stroke="#ececec" stroke-width="0.6" />
<line x1="510.00" y1="277.25" x2="679.60" y2="277.25" stroke="#f4f4f4" stroke-width="0.6" />
<line x1="510.00" y1="271.80" x2="679.60" y2="271.80" stroke="#ececec" stroke-width="0.6" />
<line x1="510.00" y1="266.35" x2="679.60" y2="266.35" stroke="#f4f4f4" stroke-width="0.6" />
<line x1="510.00" y1="260.90" x2="679.60" y2="260.90" stroke="#ececec" stroke-width="0.6" />
<line x1="510.00" y1="255.45" x2="679.60" y2="255.45" stroke="#f4f4f4" stroke-width="0.6" />
<line x1="510.00" y1="250.00" x2="679.60" y2="250.00" stroke="#ececec" stroke-width="0.6" />
<line x1="510.00" y1="244.55" x2="679.60" y2="244.55" stroke="#f4f4f4" stroke-width="0.6" />
<line x1="510.00" y1="239.10" x2="679.60" y2="239.10" stroke="#e4e4e4" stroke-width="0.6" />
<line x1="510.00" y1="233.65" x2="679.60" y2="233.65" stroke="#f4f4f4" stroke-width="0.6" />
<line x1="510.00" y1="228.20" x2="679.60" y2="228.20" stroke="#ececec" stroke-width="0.6" />
<line x1="510.00" y1="222.75" x2="679.60" y2="222.75" stroke="#f4f4f4" stroke-width="0.6" />
<line x1="510.00" y1="217.30" x2="679.60" y2="217.30" stroke="#ececec" stroke-width="0.6" />
<line x1="510.00" y1="211.85" x2="679.60" y2="211.85" stroke="#f4f4f4" stroke-width="0.6" />
<line x1="510.00" y1="206.40" x2="679.60" y2="206.40" stroke="#ececec" stroke-width="0.6" />
<line x1="510.00" y1="200.95" x2="679.60" y2="200.95" stroke="#f4f4f4" stroke-width="0.6" />
<line x1="510.00" y1="195.50" x2="679.60" y2="195.50" stroke="#ececec" stroke-width="0.6" />
<line x1="510.00" y1="190.05" x2="679.60" y2="190.05" stroke="#f4f4f4" stroke-width="0.6" />
<line x1="510.00" y1="184.60" x2="679.60" y2="184.60" stroke="#e4e4e4" stroke-width="0.6" />
<line x1="510.00" y1="179.15" x2="679.60" y2="179.15" stroke="#f4f4f4" stroke-width="0.6" />
<line x1="510.00" y1="173.70" x2="679.60" y2="173.70" stroke="#ececec" stroke-width="0.6" />
<line x1="510.00" y1="168.25" x2="679.60" y2="168.25" stroke="#f4f4f4" stroke-width="0.6" />
<line x1="510.00" y1="162.80" x2="679.60" y2="162.80" stroke="#ececec" stroke-width="0.6" />
<line x1="531.80" y1="157.00" x2="531.80" y2="293.50" stroke="#e8e8e8" stroke-width="0.7" />
<line x1="547.30" y1="157.00" x2="547.30" y2="293.50" stroke="#e8e8e8" stroke-width="0.7" />
<line x1="562.90" y1="157.00" x2="562.90" y2="293.50" stroke="#e8e8e8" stroke-width="0.7" />
<line x1="578.60" y1="157.00" x2="578.60" y2="293.50" stroke="#e8e8e8" stroke-width="0.7" />
<line x1="594.30" y1="157.00" x2="594.30" y2="293.50" stroke="#e8e8e8" stroke-width="0.7" />
<line x1="609.90" y1="157.00" x2="609.90" y2="293.50" stroke="#e8e8e8" stroke-width="0.7" />
<line x1="625.40" y1="157.00" x2="625.40" y2="293.50" stroke="#e8e8e8" stroke-width="0.7" />
<line x1="641.40" y1="157.00" x2="641.40" y2="293.50" stroke="#e8e8e8" stroke-width="0.7" />
<line x1="657.40" y1="157.00" x2="657.40" y2="293.50" stroke="#e8e8e8" stroke-width="0.7" />
<line x1="510.00" y1="239.50" x2="679.60" y2="239.50" stroke="#333" stroke-width="1.0" stroke-dasharray="3.0,1.6"/>
<polygon points="532.30,194.90 532.50,240.00 532.90,255.00 533.70,265.00 534.70,271.60 535.90,275.00 537.50,278.00 539.30,280.50 540.70,282.70 541.30,284.50 540.70,286.00 539.50,287.30 536.90,288.30 533.40,288.70 530.40,288.70 526.90,288.30 524.30,287.30 523.10,286.00 522.50,284.50 523.10,282.70 524.50,280.50 526.30,278.00 527.90,275.00 529.10,271.60 530.10,265.00 530.90,255.00 531.30,240.00 531.50,194.90" fill="#e4e4e4" stroke="none"/>
<polygon points="563.50,194.90 563.80,205.00 564.30,214.60 565.90,226.00 567.10,237.60 568.70,249.00 569.70,255.00 570.10,262.00 570.70,270.00 571.70,276.00 572.40,279.00 572.50,283.00 572.00,285.50 570.70,287.30 568.10,288.30 564.60,288.70 561.60,288.70 558.10,288.30 555.50,287.30 554.20,285.50 553.70,283.00 553.80,279.00 554.50,276.00 555.50,270.00 556.10,262.00 556.50,255.00 557.50,249.00 559.10,237.60 560.30,226.00 561.90,214.60 562.40,205.00 562.70,194.90" fill="#b6d7e8" stroke="none"/>
<polygon points="597.50,194.90 599.00,203.00 599.60,210.00 598.70,217.00 597.60,226.00 597.20,237.60 598.30,249.00 598.90,255.00 600.40,262.00 602.00,269.00 603.20,276.00 603.80,281.40 603.60,284.50 602.80,286.50 601.20,287.80 598.90,288.50 595.90,288.80 592.90,288.80 589.90,288.50 587.60,287.80 586.00,286.50 585.20,284.50 585.00,281.40 585.60,276.00 586.80,269.00 588.40,262.00 589.90,255.00 590.50,249.00 591.60,237.60 591.20,226.00 590.10,217.00 589.20,210.00 589.80,203.00 591.30,194.90" fill="#5b9bd5" stroke="none"/>
<polygon points="626.20,194.90 626.50,214.50 627.00,226.00 627.70,237.50 628.60,245.00 629.20,250.80 630.50,262.50 632.70,274.20 634.00,279.00 635.00,282.40 634.70,285.00 633.50,286.80 631.20,287.80 627.20,288.30 624.20,288.30 620.20,287.80 617.90,286.80 616.70,285.00 616.40,282.40 617.40,279.00 618.70,274.20 620.90,262.50 622.20,250.80 622.80,245.00 623.70,237.50 624.40,226.00 624.90,214.50 625.20,194.90" fill="#ead8d8" stroke="none"/>
<polygon points="657.70,194.90 658.40,203.00 659.00,214.50 660.40,226.00 661.20,237.50 661.30,250.80 661.90,262.50 663.90,274.20 665.40,279.00 666.50,282.40 666.20,285.00 665.00,286.80 662.70,287.80 658.70,288.30 655.70,288.30 651.70,287.80 649.40,286.80 648.20,285.00 647.90,282.40 649.00,279.00 650.50,274.20 652.50,262.50 653.10,250.80 653.20,237.50 654.00,226.00 655.40,214.50 656.00,203.00 656.70,194.90" fill="#dea7a7" stroke="none"/>
<line x1="531.90" y1="194.90" x2="531.90" y2="288.40" stroke="#8a8a8a" stroke-width="0.8" />
<rect x="530.95" y="248.70" width="1.90" height="40.10" fill="#4d4d4d" />
<line x1="530.95" y1="277.30" x2="532.85" y2="277.30" stroke="#fff" stroke-width="0.8" />
<line x1="563.10" y1="194.90" x2="563.10" y2="288.40" stroke="#666" stroke-width="0.8" />
<rect x="562.15" y="243.70" width="1.90" height="39.70" fill="#4d4d4d" />
<line x1="562.15" y1="260.30" x2="564.05" y2="260.30" stroke="#fff" stroke-width="0.8" />
<line x1="594.40" y1="194.90" x2="594.40" y2="288.40" stroke="#666" stroke-width="0.8" />
<rect x="593.45" y="214.60" width="1.90" height="68.80" fill="#4d4d4d" />
<line x1="593.45" y1="277.20" x2="595.35" y2="277.20" stroke="#fff" stroke-width="0.8" />
<line x1="625.70" y1="199.60" x2="625.70" y2="288.40" stroke="#666" stroke-width="0.8" />
<rect x="624.75" y="249.10" width="1.90" height="34.40" fill="#4d4d4d" />
<line x1="624.75" y1="271.60" x2="626.65" y2="271.60" stroke="#fff" stroke-width="0.8" />
<line x1="657.20" y1="194.90" x2="657.20" y2="288.40" stroke="#666" stroke-width="0.8" />
<rect x="656.25" y="238.70" width="1.90" height="43.70" fill="#4d4d4d" />
<line x1="656.25" y1="266.60" x2="658.15" y2="266.60" stroke="#fff" stroke-width="0.8" />
<rect x="510.0" y="157.0" width="169.60000000000002" height="136.5" fill="none" stroke="#8c8c8c" stroke-width="0.8"/>
<text x="533.10" y="225.78" font-size="7.6" font-family='"Liberation Serif", serif' fill="#222" text-anchor="start" stroke="#222" stroke-width="0.28" textLength="11.50" lengthAdjust="spacingAndGlyphs" >18%</text>
<text x="566.00" y="225.78" font-size="7.6" font-family='"Liberation Serif", serif' fill="#222" text-anchor="start" stroke="#222" stroke-width="0.28" textLength="11.50" lengthAdjust="spacingAndGlyphs" >24%</text>
<text x="597.20" y="225.78" font-size="7.6" font-family='"Liberation Serif", serif' fill="#222" text-anchor="start" stroke="#222" stroke-width="0.28" textLength="11.50" lengthAdjust="spacingAndGlyphs" >31%</text>
<text x="629.20" y="225.78" font-size="7.6" font-family='"Liberation Serif", serif' fill="#222" text-anchor="start" stroke="#222" stroke-width="0.28" textLength="11.50" lengthAdjust="spacingAndGlyphs" >19%</text>
<text x="661.30" y="225.78" font-size="7.6" font-family='"Liberation Serif", serif' fill="#222" text-anchor="start" stroke="#222" stroke-width="0.28" textLength="11.50" lengthAdjust="spacingAndGlyphs" >27%</text>
<text x="562.10" y="193.48" font-size="7.6" font-family='"Liberation Sans", sans-serif' fill="#222" stroke="#222" stroke-width="0.28" text-anchor="middle" textLength="27.20" lengthAdjust="spacingAndGlyphs"><tspan font-style="italic">P</tspan> = 0.001</text>
<text x="597.30" y="193.48" font-size="7.6" font-family='"Liberation Sans", sans-serif' fill="#222" stroke="#222" stroke-width="0.28" text-anchor="middle" textLength="27.20" lengthAdjust="spacingAndGlyphs"><tspan font-style="italic">P</tspan> = 0.001</text>
<text x="656.50" y="195.50" font-size="10" font-family='"Liberation Serif", serif' fill="#333" text-anchor="middle" stroke="#333" stroke-width="0.28" textLength="7.20" lengthAdjust="spacingAndGlyphs" >**</text>
<text x="576.20" y="173.78" font-size="7.0" font-family='"Liberation Sans", sans-serif' fill="#222" stroke="#222" stroke-width="0.28" text-anchor="middle" textLength="28.50" lengthAdjust="spacingAndGlyphs"><tspan font-style="italic">P</tspan> = 0.007</text>
<text x="609.40" y="173.78" font-size="7.0" font-family='"Liberation Sans", sans-serif' fill="#222" stroke="#222" stroke-width="0.28" text-anchor="middle" textLength="28.50" lengthAdjust="spacingAndGlyphs"><tspan font-style="italic">P</tspan> = 0.003</text>
<line x1="562.00" y1="175.00" x2="593.20" y2="175.00" stroke="#777" stroke-width="0.6" />
<line x1="595.20" y1="175.00" x2="625.40" y2="175.00" stroke="#777" stroke-width="0.6" />
<text x="619.8" y="165.0" font-size="7.2" font-family='"Liberation Sans", sans-serif' fill="#222" stroke="#222" stroke-width="0.25" text-anchor="middle" textLength="19" lengthAdjust="spacingAndGlyphs"><tspan font-style="italic">P</tspan> = 10</text>
<text x="629.80" y="162.30" font-size="5.0" font-family='"Liberation Sans", sans-serif' fill="#222" text-anchor="start" stroke="#222" stroke-width="0.28" textLength="6.00" lengthAdjust="spacingAndGlyphs" >−5</text>
<line x1="594.30" y1="167.00" x2="657.40" y2="167.00" stroke="#777" stroke-width="0.6" />
<text x="506.00" y="187.66" font-size="8.4" font-family='"Liberation Serif", serif' fill="#222" text-anchor="end" stroke="#222" stroke-width="0.14" textLength="8.20" lengthAdjust="spacingAndGlyphs" >20</text>
<text x="506.00" y="242.16" font-size="8.4" font-family='"Liberation Serif", serif' fill="#222" text-anchor="end" stroke="#222" stroke-width="0.14" textLength="8.20" lengthAdjust="spacingAndGlyphs" >10</text>
<text transform="translate(489.20,228.50) rotate(-90)" x="0" y="2.79" font-size="8.2" font-family='"Liberation Serif", serif' fill="#222" text-anchor="middle" stroke="#222" stroke-width="0.28" textLength="47.00" lengthAdjust="spacingAndGlyphs" >#CLL samples</text>
<text x="531.80" y="300.79" font-size="8.2" font-family='"Liberation Serif", serif' fill="#222" text-anchor="middle" stroke="#222" stroke-width="0.28" textLength="10.00" lengthAdjust="spacingAndGlyphs" >SE</text>
<text x="562.90" y="300.79" font-size="8.2" font-family='"Liberation Serif", serif' fill="#222" text-anchor="middle" stroke="#222" stroke-width="0.28" textLength="27.00" lengthAdjust="spacingAndGlyphs" >TS-to-SE</text>
<text x="594.30" y="300.79" font-size="8.2" font-family='"Liberation Serif", serif' fill="#222" text-anchor="middle" stroke="#222" stroke-width="0.28" textLength="27.00" lengthAdjust="spacingAndGlyphs" >SS-to-SE</text>
<text x="625.40" y="300.79" font-size="8.2" font-family='"Liberation Serif", serif' fill="#222" text-anchor="middle" stroke="#222" stroke-width="0.28" textLength="27.00" lengthAdjust="spacingAndGlyphs" >TE-to-SE</text>
<text x="657.40" y="300.79" font-size="8.2" font-family='"Liberation Serif", serif' fill="#222" text-anchor="middle" stroke="#222" stroke-width="0.28" textLength="27.00" lengthAdjust="spacingAndGlyphs" >SE-to-SE</text>
<text x="482.80" y="166.44" font-size="16" font-family='"Liberation Serif", serif' fill="#222" text-anchor="middle" stroke="#222" stroke-width="0.28" textLength="8.50" lengthAdjust="spacingAndGlyphs" >h</text>
<rect x="48.40" y="328.00" width="281.30" height="159.30" fill="#fff" />
<line x1="48.40" y1="378.87" x2="329.70" y2="378.87" stroke="#f0f0f0" stroke-width="0.6" />
<line x1="48.40" y1="376.24" x2="329.70" y2="376.24" stroke="#f0f0f0" stroke-width="0.6" />
<line x1="48.40" y1="373.61" x2="329.70" y2="373.61" stroke="#f0f0f0" stroke-width="0.6" />
<line x1="48.40" y1="370.98" x2="329.70" y2="370.98" stroke="#f0f0f0" stroke-width="0.6" />
<line x1="48.40" y1="368.35" x2="329.70" y2="368.35" stroke="#f0f0f0" stroke-width="0.6" />
<line x1="48.40" y1="365.72" x2="329.70" y2="365.72" stroke="#f0f0f0" stroke-width="0.6" />
<line x1="48.40" y1="363.09" x2="329.70" y2="363.09" stroke="#f0f0f0" stroke-width="0.6" />
<line x1="48.40" y1="360.46" x2="329.70" y2="360.46" stroke="#f0f0f0" stroke-width="0.6" />
<line x1="48.40" y1="357.83" x2="329.70" y2="357.83" stroke="#f0f0f0" stroke-width="0.6" />
<line x1="48.40" y1="355.20" x2="329.70" y2="355.20" stroke="#e2e2e2" stroke-width="0.6" />
<line x1="48.40" y1="352.57" x2="329.70" y2="352.57" stroke="#f0f0f0" stroke-width="0.6" />
<line x1="48.40" y1="349.94" x2="329.70" y2="349.94" stroke="#f0f0f0" stroke-width="0.6" />
<line x1="48.40" y1="347.31" x2="329.70" y2="347.31" stroke="#f0f0f0" stroke-width="0.6" />
<line x1="48.40" y1="344.68" x2="329.70" y2="344.68" stroke="#f0f0f0" stroke-width="0.6" />
<line x1="48.40" y1="342.05" x2="329.70" y2="342.05" stroke="#f0f0f0" stroke-width="0.6" />
<line x1="48.40" y1="339.42" x2="329.70" y2="339.42" stroke="#f0f0f0" stroke-width="0.6" />
<line x1="48.40" y1="336.79" x2="329.70" y2="336.79" stroke="#f0f0f0" stroke-width="0.6" />
<line x1="48.40" y1="334.16" x2="329.70" y2="334.16" stroke="#f0f0f0" stroke-width="0.6" />
<line x1="48.40" y1="331.53" x2="329.70" y2="331.53" stroke="#f0f0f0" stroke-width="0.6" />
<line x1="48.40" y1="386.93" x2="329.70" y2="386.93" stroke="#f0f0f0" stroke-width="0.6" />
<line x1="48.40" y1="392.36" x2="329.70" y2="392.36" stroke="#f0f0f0" stroke-width="0.6" />
<line x1="48.40" y1="397.79" x2="329.70" y2="397.79" stroke="#f0f0f0" stroke-width="0.6" />
<line x1="48.40" y1="403.22" x2="329.70" y2="403.22" stroke="#f0f0f0" stroke-width="0.6" />
<line x1="48.40" y1="408.65" x2="329.70" y2="408.65" stroke="#e2e2e2" stroke-width="0.6" />
<line x1="48.40" y1="414.08" x2="329.70" y2="414.08" stroke="#f0f0f0" stroke-width="0.6" />
<line x1="48.40" y1="419.51" x2="329.70" y2="419.51" stroke="#f0f0f0" stroke-width="0.6" />
<line x1="48.40" y1="424.94" x2="329.70" y2="424.94" stroke="#f0f0f0" stroke-width="0.6" />
<line x1="48.40" y1="430.37" x2="329.70" y2="430.37" stroke="#f0f0f0" stroke-width="0.6" />
<line x1="48.40" y1="439.23" x2="329.70" y2="439.23" stroke="#f0f0f0" stroke-width="0.6" />
<line x1="48.40" y1="442.67" x2="329.70" y2="442.67" stroke="#f0f0f0" stroke-width="0.6" />
<line x1="48.40" y1="446.10" x2="329.70" y2="446.10" stroke="#f0f0f0" stroke-width="0.6" />
<line x1="48.40" y1="449.53" x2="329.70" y2="449.53" stroke="#f0f0f0" stroke-width="0.6" />
<line x1="48.40" y1="452.97" x2="329.70" y2="452.97" stroke="#e2e2e2" stroke-width="0.6" />
<line x1="48.40" y1="456.40" x2="329.70" y2="456.40" stroke="#f0f0f0" stroke-width="0.6" />
<line x1="48.40" y1="459.83" x2="329.70" y2="459.83" stroke="#f0f0f0" stroke-width="0.6" />
<line x1="48.40" y1="463.27" x2="329.70" y2="463.27" stroke="#f0f0f0" stroke-width="0.6" />
<line x1="48.40" y1="466.70" x2="329.70" y2="466.70" stroke="#f0f0f0" stroke-width="0.6" />
<line x1="48.40" y1="470.13" x2="329.70" y2="470.13" stroke="#e2e2e2" stroke-width="0.6" />
<line x1="48.40" y1="473.57" x2="329.70" y2="473.57" stroke="#f0f0f0" stroke-width="0.6" />
<line x1="48.40" y1="477.00" x2="329.70" y2="477.00" stroke="#f0f0f0" stroke-width="0.6" />
<line x1="48.40" y1="480.43" x2="329.70" y2="480.43" stroke="#f0f0f0" stroke-width="0.6" />
<line x1="48.40" y1="483.87" x2="329.70" y2="483.87" stroke="#f0f0f0" stroke-width="0.6" />
<line x1="48.40" y1="381.50" x2="329.70" y2="381.50" stroke="#d8d8d8" stroke-width="0.9" />
<line x1="48.40" y1="435.80" x2="329.70" y2="435.80" stroke="#d0d0d0" stroke-width="0.9" />
<line x1="115.80" y1="328.00" x2="115.80" y2="487.30" stroke="#e6e6e6" stroke-width="0.8" />
<line x1="188.80" y1="328.00" x2="188.80" y2="487.30" stroke="#e6e6e6" stroke-width="0.8" />
<line x1="262.60" y1="328.00" x2="262.60" y2="487.30" stroke="#e6e6e6" stroke-width="0.8" />
<line x1="48.40" y1="328.00" x2="329.70" y2="328.00" stroke="#666" stroke-width="0.9" />
<line x1="48.40" y1="328.00" x2="48.40" y2="487.30" stroke="#555" stroke-width="1.0" />
<line x1="48.40" y1="487.30" x2="329.70" y2="487.30" stroke="#555" stroke-width="1.0" />
<line x1="329.70" y1="328.00" x2="329.70" y2="487.30" stroke="#888" stroke-width="0.8" />
<line x1="61.00" y1="378.50" x2="61.00" y2="387.80" stroke="#b5b5b5" stroke-width="1.2" />
<path d="M57.70,379.70 L61.00,373.70 L64.30,379.70 Z" fill="#b5b5b5" stroke="none" stroke-width="0.5" />
<path d="M57.70,386.60 L61.00,392.60 L64.30,386.60 Z" fill="#b5b5b5" stroke="none" stroke-width="0.5" />
<line x1="68.20" y1="378.00" x2="68.20" y2="404.80" stroke="#dba2ec" stroke-width="1.2" />
<path d="M64.90,379.20 L68.20,373.20 L71.50,379.20 Z" fill="#dba2ec" stroke="none" stroke-width="0.5" />
<path d="M64.90,403.60 L68.20,409.60 L71.50,403.60 Z" fill="#dba2ec" stroke="none" stroke-width="0.5" />
<line x1="75.30" y1="378.46" x2="75.30" y2="423.64" stroke="#3a50c8" stroke-width="1.2" />
<path d="M73.50,379.10 L75.30,375.90 L77.10,379.10 Z" fill="#3a50c8" stroke="none" stroke-width="0.5" />
<path d="M73.50,423.00 L75.30,426.20 L77.10,423.00 Z" fill="#3a50c8" stroke="none" stroke-width="0.5" />
<path d="M72.50,421.00 L75.30,426.20 L78.10,421.00 Z" fill="#3a50c8" stroke="none" stroke-width="0.5" />
<line x1="83.00" y1="379.10" x2="83.00" y2="409.20" stroke="#5eaef0" stroke-width="1.2" />
<path d="M79.70,380.30 L83.00,374.30 L86.30,380.30 Z" fill="#5eaef0" stroke="none" stroke-width="0.5" />
<path d="M79.70,408.00 L83.00,414.00 L86.30,408.00 Z" fill="#5eaef0" stroke="none" stroke-width="0.5" />
<line x1="90.30" y1="376.30" x2="90.30" y2="404.80" stroke="#d8303c" stroke-width="1.2" />
<path d="M87.00,377.50 L90.30,371.50 L93.60,377.50 Z" fill="#d8303c" stroke="none" stroke-width="0.5" />
<path d="M87.00,403.60 L90.30,409.60 L93.60,403.60 Z" fill="#d8303c" stroke="none" stroke-width="0.5" />
<line x1="97.40" y1="379.10" x2="97.40" y2="406.40" stroke="#e9a1a8" stroke-width="1.2" />
<path d="M94.10,380.30 L97.40,374.30 L100.70,380.30 Z" fill="#e9a1a8" stroke="none" stroke-width="0.5" />
<path d="M94.10,405.20 L97.40,411.20 L100.70,405.20 Z" fill="#e9a1a8" stroke="none" stroke-width="0.5" />
<line x1="134.10" y1="365.30" x2="134.10" y2="421.00" stroke="#b5b5b5" stroke-width="1.2" />
<path d="M130.80,366.50 L134.10,360.50 L137.40,366.50 Z" fill="#b5b5b5" stroke="none" stroke-width="0.5" />
<path d="M130.80,419.80 L134.10,425.80 L137.40,419.80 Z" fill="#b5b5b5" stroke="none" stroke-width="0.5" />
<line x1="141.00" y1="365.30" x2="141.00" y2="461.60" stroke="#dba2ec" stroke-width="1.2" />
<path d="M137.70,366.50 L141.00,360.50 L144.30,366.50 Z" fill="#dba2ec" stroke="none" stroke-width="0.5" />
<path d="M137.70,460.40 L141.00,466.40 L144.30,460.40 Z" fill="#dba2ec" stroke="none" stroke-width="0.5" />
<line x1="148.50" y1="369.50" x2="148.50" y2="468.20" stroke="#3a50c8" stroke-width="1.2" />
<path d="M145.20,370.70 L148.50,364.70 L151.80,370.70 Z" fill="#3a50c8" stroke="none" stroke-width="0.5" />
<path d="M145.20,467.00 L148.50,473.00 L151.80,467.00 Z" fill="#3a50c8" stroke="none" stroke-width="0.5" />
<line x1="155.80" y1="368.30" x2="155.80" y2="465.20" stroke="#5eaef0" stroke-width="1.2" />
<path d="M152.50,369.50 L155.80,363.50 L159.10,369.50 Z" fill="#5eaef0" stroke="none" stroke-width="0.5" />
<path d="M152.50,464.00 L155.80,470.00 L159.10,464.00 Z" fill="#5eaef0" stroke="none" stroke-width="0.5" />
<line x1="163.60" y1="361.40" x2="163.60" y2="463.10" stroke="#d8303c" stroke-width="1.2" />
<path d="M160.30,362.60 L163.60,356.60 L166.90,362.60 Z" fill="#d8303c" stroke="none" stroke-width="0.5" />
<path d="M160.30,461.90 L163.60,467.90 L166.90,461.90 Z" fill="#d8303c" stroke="none" stroke-width="0.5" />
<line x1="170.20" y1="365.30" x2="170.20" y2="461.00" stroke="#e9a1a8" stroke-width="1.2" />
<path d="M166.90,366.50 L170.20,360.50 L173.50,366.50 Z" fill="#e9a1a8" stroke="none" stroke-width="0.5" />
<path d="M166.90,459.80 L170.20,465.80 L173.50,459.80 Z" fill="#e9a1a8" stroke="none" stroke-width="0.5" />
<line x1="206.70" y1="362.30" x2="206.70" y2="423.10" stroke="#b5b5b5" stroke-width="1.2" />
<path d="M203.40,363.50 L206.70,357.50 L210.00,363.50 Z" fill="#b5b5b5" stroke="none" stroke-width="0.5" />
<path d="M203.40,421.90 L206.70,427.90 L210.00,421.90 Z" fill="#b5b5b5" stroke="none" stroke-width="0.5" />
<line x1="214.20" y1="361.40" x2="214.20" y2="465.20" stroke="#dba2ec" stroke-width="1.2" />
<path d="M210.90,362.60 L214.20,356.60 L217.50,362.60 Z" fill="#dba2ec" stroke="none" stroke-width="0.5" />
<path d="M210.90,464.00 L214.20,470.00 L217.50,464.00 Z" fill="#dba2ec" stroke="none" stroke-width="0.5" />
<line x1="221.70" y1="368.90" x2="221.70" y2="470.10" stroke="#3a50c8" stroke-width="1.2" />
<path d="M218.40,370.10 L221.70,364.10 L225.00,370.10 Z" fill="#3a50c8" stroke="none" stroke-width="0.5" />
<path d="M218.40,468.90 L221.70,474.90 L225.00,468.90 Z" fill="#3a50c8" stroke="none" stroke-width="0.5" />
<line x1="229.00" y1="365.80" x2="229.00" y2="469.20" stroke="#5eaef0" stroke-width="1.2" />
<path d="M225.70,367.00 L229.00,361.00 L232.30,367.00 Z" fill="#5eaef0" stroke="none" stroke-width="0.5" />
<path d="M225.70,468.00 L229.00,474.00 L232.30,468.00 Z" fill="#5eaef0" stroke="none" stroke-width="0.5" />
<line x1="236.20" y1="356.20" x2="236.20" y2="464.60" stroke="#d8303c" stroke-width="1.2" />
<path d="M232.90,357.40 L236.20,351.40 L239.50,357.40 Z" fill="#d8303c" stroke="none" stroke-width="0.5" />
<path d="M232.90,463.40 L236.20,469.40 L239.50,463.40 Z" fill="#d8303c" stroke="none" stroke-width="0.5" />
<line x1="243.70" y1="360.50" x2="243.70" y2="467.70" stroke="#e9a1a8" stroke-width="1.2" />
<path d="M240.40,361.70 L243.70,355.70 L247.00,361.70 Z" fill="#e9a1a8" stroke="none" stroke-width="0.5" />
<path d="M240.40,466.50 L243.70,472.50 L247.00,466.50 Z" fill="#e9a1a8" stroke="none" stroke-width="0.5" />
<line x1="279.70" y1="361.40" x2="279.70" y2="426.40" stroke="#b5b5b5" stroke-width="1.2" />
<path d="M276.40,362.60 L279.70,356.60 L283.00,362.60 Z" fill="#b5b5b5" stroke="none" stroke-width="0.5" />
<path d="M276.40,425.20 L279.70,431.20 L283.00,425.20 Z" fill="#b5b5b5" stroke="none" stroke-width="0.5" />
<line x1="286.60" y1="354.70" x2="286.60" y2="457.10" stroke="#dba2ec" stroke-width="1.2" />
<path d="M283.30,355.90 L286.60,349.90 L289.90,355.90 Z" fill="#dba2ec" stroke="none" stroke-width="0.5" />
<path d="M283.30,455.90 L286.60,461.90 L289.90,455.90 Z" fill="#dba2ec" stroke="none" stroke-width="0.5" />
<line x1="294.10" y1="356.80" x2="294.10" y2="458.60" stroke="#3a50c8" stroke-width="1.2" />
<path d="M290.80,358.00 L294.10,352.00 L297.40,358.00 Z" fill="#3a50c8" stroke="none" stroke-width="0.5" />
<path d="M290.80,457.40 L294.10,463.40 L297.40,457.40 Z" fill="#3a50c8" stroke="none" stroke-width="0.5" />
<line x1="301.70" y1="358.30" x2="301.70" y2="458.60" stroke="#5eaef0" stroke-width="1.2" />
<path d="M298.40,359.50 L301.70,353.50 L305.00,359.50 Z" fill="#5eaef0" stroke="none" stroke-width="0.5" />
<path d="M298.40,457.40 L301.70,463.40 L305.00,457.40 Z" fill="#5eaef0" stroke="none" stroke-width="0.5" />
<line x1="309.20" y1="347.80" x2="309.20" y2="459.20" stroke="#d8303c" stroke-width="1.2" />
<path d="M305.90,349.00 L309.20,343.00 L312.50,349.00 Z" fill="#d8303c" stroke="none" stroke-width="0.5" />
<path d="M305.90,458.00 L309.20,464.00 L312.50,458.00 Z" fill="#d8303c" stroke="none" stroke-width="0.5" />
<line x1="316.70" y1="353.20" x2="316.70" y2="458.60" stroke="#e9a1a8" stroke-width="1.2" />
<path d="M313.40,354.40 L316.70,348.40 L320.00,354.40 Z" fill="#e9a1a8" stroke="none" stroke-width="0.5" />
<path d="M313.40,457.40 L316.70,463.40 L320.00,457.40 Z" fill="#e9a1a8" stroke="none" stroke-width="0.5" />
<text x="76.20" y="378.53" font-size="9.5" font-family='"Liberation Serif", serif' fill="#222" text-anchor="middle" stroke="#222" stroke-width="0.05" textLength="7.00" lengthAdjust="spacingAndGlyphs" >**</text>
<text x="84.40" y="375.33" font-size="9.5" font-family='"Liberation Serif", serif' fill="#222" text-anchor="middle" stroke="#222" stroke-width="0.05" textLength="7.00" lengthAdjust="spacingAndGlyphs" >**</text>
<text x="148.80" y="367.13" font-size="9.5" font-family='"Liberation Serif", serif' fill="#222" text-anchor="middle" stroke="#222" stroke-width="0.05" textLength="7.00" lengthAdjust="spacingAndGlyphs" >**</text>
<text x="156.80" y="364.83" font-size="9.5" font-family='"Liberation Serif", serif' fill="#222" text-anchor="middle" stroke="#222" stroke-width="0.05" textLength="7.00" lengthAdjust="spacingAndGlyphs" >**</text>
<text x="221.70" y="365.73" font-size="9.5" font-family='"Liberation Serif", serif' fill="#222" text-anchor="middle" stroke="#222" stroke-width="0.05" textLength="7.00" lengthAdjust="spacingAndGlyphs" >**</text>
<text x="230.20" y="363.43" font-size="9.5" font-family='"Liberation Serif", serif' fill="#222" text-anchor="middle" stroke="#222" stroke-width="0.05" textLength="7.00" lengthAdjust="spacingAndGlyphs" >**</text>
<text x="295.00" y="354.33" font-size="9.5" font-family='"Liberation Serif", serif' fill="#222" text-anchor="middle" stroke="#222" stroke-width="0.05" textLength="7.00" lengthAdjust="spacingAndGlyphs" >**</text>
<text x="301.70" y="356.13" font-size="9.5" font-family='"Liberation Serif", serif' fill="#222" text-anchor="middle" stroke="#222" stroke-width="0.05" textLength="7.00" lengthAdjust="spacingAndGlyphs" >**</text>
<text x="76.00" y="435.53" font-size="9.5" font-family='"Liberation Serif", serif' fill="#222" text-anchor="middle" stroke="#222" stroke-width="0.05" textLength="7.00" lengthAdjust="spacingAndGlyphs" >**</text>
<text x="149.10" y="482.63" font-size="9.5" font-family='"Liberation Serif", serif' fill="#222" text-anchor="middle" stroke="#222" stroke-width="0.05" textLength="7.00" lengthAdjust="spacingAndGlyphs" >**</text>
<text x="157.60" y="480.73" font-size="9.5" font-family='"Liberation Serif", serif' fill="#222" text-anchor="middle" stroke="#222" stroke-width="0.05" textLength="7.00" lengthAdjust="spacingAndGlyphs" >**</text>
<text x="222.60" y="486.23" font-size="9.5" font-family='"Liberation Serif", serif' fill="#222" text-anchor="middle" stroke="#222" stroke-width="0.05" textLength="7.00" lengthAdjust="spacingAndGlyphs" >**</text>
<text x="230.20" y="484.73" font-size="9.5" font-family='"Liberation Serif", serif' fill="#222" text-anchor="middle" stroke="#222" stroke-width="0.05" textLength="7.00" lengthAdjust="spacingAndGlyphs" >**</text>
<rect x="48.90" y="379.90" width="280.30" height="2.30" fill="#fff" />
<line x1="48.40" y1="381.40" x2="329.70" y2="381.40" stroke="#dedede" stroke-width="0.9" />
<rect x="48.90" y="433.90" width="280.30" height="1.90" fill="#fff" />
<line x1="48.40" y1="435.30" x2="329.70" y2="435.30" stroke="#d8d8d8" stroke-width="0.9" />
<text x="79.30" y="422.12" font-size="8.6" font-family='"Liberation Serif", serif' fill="#222" text-anchor="start" stroke="#222" stroke-width="0.28" textLength="19.20" lengthAdjust="spacingAndGlyphs" >0.006</text>
<circle cx="53.6" cy="335.6" r="1.35" fill="#b5b5b5"/>
<text x="62.80" y="337.44" font-size="5.4" font-family='"Liberation Sans", sans-serif' fill="#444" text-anchor="start" stroke="#444" stroke-width="0.28" textLength="5.00" lengthAdjust="spacingAndGlyphs" >all</text>
<circle cx="82.9" cy="335.6" r="1.35" fill="#dba2ec"/>
<text x="92.50" y="337.44" font-size="5.4" font-family='"Liberation Sans", sans-serif' fill="#444" text-anchor="start" stroke="#444" stroke-width="0.28" textLength="5.20" lengthAdjust="spacingAndGlyphs" >SE</text>
<circle cx="112.2" cy="335.6" r="1.35" fill="#5eaef0"/>
<text x="121.20" y="337.44" font-size="5.4" font-family='"Liberation Sans", sans-serif' fill="#444" text-anchor="start" stroke="#444" stroke-width="0.28" textLength="22.50" lengthAdjust="spacingAndGlyphs" >SS_to_SE</text>
<circle cx="156.8" cy="335.6" r="1.35" fill="#3a50c8"/>
<text x="166.40" y="337.44" font-size="5.4" font-family='"Liberation Sans", sans-serif' fill="#444" text-anchor="start" stroke="#444" stroke-width="0.28" textLength="22.40" lengthAdjust="spacingAndGlyphs" >TS_to_SE</text>
<circle cx="204.0" cy="335.6" r="1.35" fill="#e9a1a8"/>
<text x="212.60" y="337.44" font-size="5.4" font-family='"Liberation Sans", sans-serif' fill="#444" text-anchor="start" stroke="#444" stroke-width="0.28" textLength="21.80" lengthAdjust="spacingAndGlyphs" >SE_to_SE</text>
<circle cx="247.6" cy="335.6" r="1.35" fill="#d8303c"/>
<text x="256.80" y="337.44" font-size="5.4" font-family='"Liberation Sans", sans-serif' fill="#444" text-anchor="start" stroke="#444" stroke-width="0.28" textLength="22.20" lengthAdjust="spacingAndGlyphs" >TE_to_SE</text>
<text x="44.30" y="332.16" font-size="8.4" font-family='"Liberation Serif", serif' fill="#222" text-anchor="end" stroke="#222" stroke-width="0.14" textLength="8.40" lengthAdjust="spacingAndGlyphs" >20</text>
<text x="44.30" y="358.06" font-size="8.4" font-family='"Liberation Serif", serif' fill="#222" text-anchor="end" stroke="#222" stroke-width="0.14" textLength="8.40" lengthAdjust="spacingAndGlyphs" >10</text>
<text x="44.30" y="384.46" font-size="8.4" font-family='"Liberation Serif", serif' fill="#222" text-anchor="end" stroke="#222" stroke-width="0.14" >0</text>
<text x="44.30" y="411.46" font-size="8.4" font-family='"Liberation Serif", serif' fill="#222" text-anchor="end" stroke="#222" stroke-width="0.14" >5</text>
<text x="44.30" y="439.06" font-size="8.4" font-family='"Liberation Serif", serif' fill="#222" text-anchor="end" stroke="#222" stroke-width="0.14" textLength="8.40" lengthAdjust="spacingAndGlyphs" >10</text>
<text x="44.30" y="457.06" font-size="8.4" font-family='"Liberation Serif", serif' fill="#222" text-anchor="end" stroke="#222" stroke-width="0.14" textLength="8.40" lengthAdjust="spacingAndGlyphs" >20</text>
<text x="44.30" y="473.76" font-size="8.4" font-family='"Liberation Serif", serif' fill="#222" text-anchor="end" stroke="#222" stroke-width="0.14" textLength="8.40" lengthAdjust="spacingAndGlyphs" >30</text>
<text x="44.30" y="490.16" font-size="8.4" font-family='"Liberation Serif", serif' fill="#222" text-anchor="end" stroke="#222" stroke-width="0.14" textLength="8.40" lengthAdjust="spacingAndGlyphs" >40</text>
<text transform="translate(12.90,410.50) rotate(-90)" x="0" y="2.79" font-size="8.2" font-family='"Liberation Serif", serif' fill="#222" text-anchor="middle" stroke="#222" stroke-width="0.28" textLength="165.00" lengthAdjust="spacingAndGlyphs" >Fraction of genes significantly affected by JQ1(%)</text>
<text transform="translate(27.60,359.20) rotate(-90)" x="0" y="2.79" font-size="8.2" font-family='"Liberation Serif", serif' fill="#222" text-anchor="middle" stroke="#222" stroke-width="0.28" textLength="39.00" lengthAdjust="spacingAndGlyphs" >Upregulated</text>
<text transform="translate(26.80,457.60) rotate(-90)" x="0" y="2.79" font-size="8.2" font-family='"Liberation Serif", serif' fill="#222" text-anchor="middle" stroke="#222" stroke-width="0.28" textLength="49.00" lengthAdjust="spacingAndGlyphs" >Downregulated</text>
<text x="74.40" y="497.49" font-size="8.8" font-family='"Liberation Serif", serif' fill="#222" text-anchor="middle" stroke="#222" stroke-width="0.3" textLength="9.20" lengthAdjust="spacingAndGlyphs" >2h</text>
<text x="150.40" y="497.49" font-size="8.8" font-family='"Liberation Serif", serif' fill="#222" text-anchor="middle" stroke="#222" stroke-width="0.3" textLength="9.20" lengthAdjust="spacingAndGlyphs" >6h</text>
<text x="223.30" y="497.49" font-size="8.8" font-family='"Liberation Serif", serif' fill="#222" text-anchor="middle" stroke="#222" stroke-width="0.3" textLength="13.20" lengthAdjust="spacingAndGlyphs" >12h</text>
<text x="296.40" y="497.49" font-size="8.8" font-family='"Liberation Serif", serif' fill="#222" text-anchor="middle" stroke="#222" stroke-width="0.3" textLength="13.20" lengthAdjust="spacingAndGlyphs" >24h</text>
<text x="4.80" y="332.04" font-size="16" font-family='"Liberation Serif", serif' fill="#222" text-anchor="middle" stroke="#222" stroke-width="0.28" textLength="5.50" lengthAdjust="spacingAndGlyphs" >f</text>
<rect x="360.10" y="338.50" width="160.20" height="147.40" fill="#fff" />
<line x1="360.10" y1="482.60" x2="520.30" y2="482.60" stroke="#f0f0f0" stroke-width="0.6" />
<line x1="360.10" y1="472.40" x2="520.30" y2="472.40" stroke="#f0f0f0" stroke-width="0.6" />
<line x1="360.10" y1="462.20" x2="520.30" y2="462.20" stroke="#f0f0f0" stroke-width="0.6" />
<line x1="360.10" y1="452.00" x2="520.30" y2="452.00" stroke="#f0f0f0" stroke-width="0.6" />
<line x1="360.10" y1="441.80" x2="520.30" y2="441.80" stroke="#f0f0f0" stroke-width="0.6" />
<line x1="360.10" y1="431.60" x2="520.30" y2="431.60" stroke="#f0f0f0" stroke-width="0.6" />
<line x1="360.10" y1="421.40" x2="520.30" y2="421.40" stroke="#f0f0f0" stroke-width="0.6" />
<line x1="360.10" y1="411.20" x2="520.30" y2="411.20" stroke="#f0f0f0" stroke-width="0.6" />
<line x1="360.10" y1="401.00" x2="520.30" y2="401.00" stroke="#f0f0f0" stroke-width="0.6" />
<line x1="360.10" y1="390.80" x2="520.30" y2="390.80" stroke="#f0f0f0" stroke-width="0.6" />
<line x1="360.10" y1="380.60" x2="520.30" y2="380.60" stroke="#f0f0f0" stroke-width="0.6" />
<line x1="360.10" y1="370.40" x2="520.30" y2="370.40" stroke="#f0f0f0" stroke-width="0.6" />
<line x1="360.10" y1="360.20" x2="520.30" y2="360.20" stroke="#f0f0f0" stroke-width="0.6" />
<line x1="360.10" y1="350.00" x2="520.30" y2="350.00" stroke="#f0f0f0" stroke-width="0.6" />
<line x1="360.10" y1="339.80" x2="520.30" y2="339.80" stroke="#f0f0f0" stroke-width="0.6" />
<line x1="360.10" y1="462.20" x2="520.30" y2="462.20" stroke="#e2e2e2" stroke-width="0.7" />
<line x1="360.10" y1="411.20" x2="520.30" y2="411.20" stroke="#e2e2e2" stroke-width="0.7" />
<line x1="360.10" y1="360.20" x2="520.30" y2="360.20" stroke="#e2e2e2" stroke-width="0.7" />
<line x1="392.30" y1="338.50" x2="392.30" y2="485.90" stroke="#e4e4e4" stroke-width="0.8" />
<line x1="424.10" y1="338.50" x2="424.10" y2="485.90" stroke="#e4e4e4" stroke-width="0.8" />
<line x1="456.50" y1="338.50" x2="456.50" y2="485.90" stroke="#e4e4e4" stroke-width="0.8" />
<line x1="488.40" y1="338.50" x2="488.40" y2="485.90" stroke="#e4e4e4" stroke-width="0.8" />
<rect x="360.10" y="328.50" width="160.20" height="10.00" fill="#9b9b9b" />
<text x="440.20" y="336.97" font-size="10.5" font-family='"Liberation Serif", serif' fill="#fff" text-anchor="middle" stroke="#fff" stroke-width="0.1" textLength="23.00" lengthAdjust="spacingAndGlyphs" >BCL6</text>
<rect x="523.50" y="338.50" width="159.30" height="147.40" fill="#fff" />
<line x1="523.50" y1="482.60" x2="682.80" y2="482.60" stroke="#f0f0f0" stroke-width="0.6" />
<line x1="523.50" y1="472.40" x2="682.80" y2="472.40" stroke="#f0f0f0" stroke-width="0.6" />
<line x1="523.50" y1="462.20" x2="682.80" y2="462.20" stroke="#f0f0f0" stroke-width="0.6" />
<line x1="523.50" y1="452.00" x2="682.80" y2="452.00" stroke="#f0f0f0" stroke-width="0.6" />
<line x1="523.50" y1="441.80" x2="682.80" y2="441.80" stroke="#f0f0f0" stroke-width="0.6" />
<line x1="523.50" y1="431.60" x2="682.80" y2="431.60" stroke="#f0f0f0" stroke-width="0.6" />
<line x1="523.50" y1="421.40" x2="682.80" y2="421.40" stroke="#f0f0f0" stroke-width="0.6" />
<line x1="523.50" y1="411.20" x2="682.80" y2="411.20" stroke="#f0f0f0" stroke-width="0.6" />
<line x1="523.50" y1="401.00" x2="682.80" y2="401.00" stroke="#f0f0f0" stroke-width="0.6" />
<line x1="523.50" y1="390.80" x2="682.80" y2="390.80" stroke="#f0f0f0" stroke-width="0.6" />
<line x1="523.50" y1="380.60" x2="682.80" y2="380.60" stroke="#f0f0f0" stroke-width="0.6" />
<line x1="523.50" y1="370.40" x2="682.80" y2="370.40" stroke="#f0f0f0" stroke-width="0.6" />
<line x1="523.50" y1="360.20" x2="682.80" y2="360.20" stroke="#f0f0f0" stroke-width="0.6" />
<line x1="523.50" y1="350.00" x2="682.80" y2="350.00" stroke="#f0f0f0" stroke-width="0.6" />
<line x1="523.50" y1="339.80" x2="682.80" y2="339.80" stroke="#f0f0f0" stroke-width="0.6" />
<line x1="523.50" y1="462.20" x2="682.80" y2="462.20" stroke="#e2e2e2" stroke-width="0.7" />
<line x1="523.50" y1="411.20" x2="682.80" y2="411.20" stroke="#e2e2e2" stroke-width="0.7" />
<line x1="523.50" y1="360.20" x2="682.80" y2="360.20" stroke="#e2e2e2" stroke-width="0.7" />
<line x1="555.40" y1="338.50" x2="555.40" y2="485.90" stroke="#e4e4e4" stroke-width="0.8" />
<line x1="587.00" y1="338.50" x2="587.00" y2="485.90" stroke="#e4e4e4" stroke-width="0.8" />
<line x1="618.80" y1="338.50" x2="618.80" y2="485.90" stroke="#e4e4e4" stroke-width="0.8" />
<line x1="650.70" y1="338.50" x2="650.70" y2="485.90" stroke="#e4e4e4" stroke-width="0.8" />
<rect x="523.50" y="328.50" width="159.30" height="10.00" fill="#9b9b9b" />
<text x="603.15" y="336.97" font-size="10.5" font-family='"Liberation Serif", serif' fill="#fff" text-anchor="middle" stroke="#fff" stroke-width="0.1" textLength="32.00" lengthAdjust="spacingAndGlyphs" >BACH2</text>
<line x1="371.45" y1="406.70" x2="371.45" y2="409.40" stroke="#777" stroke-width="0.8" />
<line x1="371.45" y1="413.80" x2="371.45" y2="419.70" stroke="#777" stroke-width="0.8" />
<line x1="369.55" y1="406.70" x2="373.35" y2="406.70" stroke="#777" stroke-width="0.8" />
<line x1="369.55" y1="419.70" x2="373.35" y2="419.70" stroke="#777" stroke-width="0.8" />
<rect x="366.90" y="409.40" width="9.10" height="4.40" fill="#c0c0c0" />
<line x1="366.90" y1="411.00" x2="376.00" y2="411.00" stroke="#505050" stroke-width="1.1" />
<line x1="381.15" y1="406.70" x2="381.15" y2="408.90" stroke="#777" stroke-width="0.8" />
<line x1="381.15" y1="413.80" x2="381.15" y2="419.70" stroke="#777" stroke-width="0.8" />
<line x1="379.25" y1="406.70" x2="383.05" y2="406.70" stroke="#777" stroke-width="0.8" />
<line x1="379.25" y1="419.70" x2="383.05" y2="419.70" stroke="#777" stroke-width="0.8" />
<rect x="376.50" y="408.90" width="9.30" height="4.90" fill="#e2282a" />
<line x1="376.50" y1="410.60" x2="385.80" y2="410.60" stroke="#333" stroke-width="1.1" />
<line x1="403.20" y1="387.90" x2="403.20" y2="401.30" stroke="#777" stroke-width="0.8" />
<line x1="403.20" y1="414.80" x2="403.20" y2="423.20" stroke="#777" stroke-width="0.8" />
<line x1="401.30" y1="387.90" x2="405.10" y2="387.90" stroke="#777" stroke-width="0.8" />
<line x1="401.30" y1="423.20" x2="405.10" y2="423.20" stroke="#777" stroke-width="0.8" />
<rect x="398.50" y="401.30" width="9.40" height="13.50" fill="#c0c0c0" />
<line x1="398.50" y1="413.00" x2="407.90" y2="413.00" stroke="#505050" stroke-width="1.1" />
<line x1="412.95" y1="405.70" x2="412.95" y2="423.20" stroke="#777" stroke-width="0.8" />
<line x1="412.95" y1="440.00" x2="412.95" y2="455.40" stroke="#777" stroke-width="0.8" />
<line x1="411.05" y1="405.70" x2="414.85" y2="405.70" stroke="#777" stroke-width="0.8" />
<line x1="411.05" y1="455.40" x2="414.85" y2="455.40" stroke="#777" stroke-width="0.8" />
<rect x="408.50" y="423.20" width="8.90" height="16.80" fill="#e2282a" />
<line x1="408.50" y1="433.20" x2="417.40" y2="433.20" stroke="#333" stroke-width="1.1" />
<line x1="434.90" y1="404.90" x2="434.90" y2="413.00" stroke="#777" stroke-width="0.8" />
<line x1="434.90" y1="419.70" x2="434.90" y2="423.20" stroke="#777" stroke-width="0.8" />
<line x1="433.00" y1="404.90" x2="436.80" y2="404.90" stroke="#777" stroke-width="0.8" />
<line x1="433.00" y1="423.20" x2="436.80" y2="423.20" stroke="#777" stroke-width="0.8" />
<rect x="430.00" y="413.00" width="9.80" height="6.70" fill="#c0c0c0" />
<line x1="430.00" y1="415.70" x2="439.80" y2="415.70" stroke="#505050" stroke-width="1.1" />
<line x1="445.05" y1="411.10" x2="445.05" y2="420.20" stroke="#777" stroke-width="0.8" />
<line x1="445.05" y1="441.80" x2="445.05" y2="471.00" stroke="#777" stroke-width="0.8" />
<line x1="443.15" y1="411.10" x2="446.95" y2="411.10" stroke="#777" stroke-width="0.8" />
<line x1="443.15" y1="471.00" x2="446.95" y2="471.00" stroke="#777" stroke-width="0.8" />
<rect x="440.30" y="420.20" width="9.50" height="21.60" fill="#e2282a" />
<line x1="440.30" y1="435.10" x2="449.80" y2="435.10" stroke="#333" stroke-width="1.1" />
<line x1="466.65" y1="395.90" x2="466.65" y2="411.10" stroke="#777" stroke-width="0.8" />
<line x1="466.65" y1="422.90" x2="466.65" y2="434.60" stroke="#777" stroke-width="0.8" />
<line x1="464.75" y1="395.90" x2="468.55" y2="395.90" stroke="#777" stroke-width="0.8" />
<line x1="464.75" y1="434.60" x2="468.55" y2="434.60" stroke="#777" stroke-width="0.8" />
<rect x="461.90" y="411.10" width="9.50" height="11.80" fill="#c0c0c0" />
<line x1="461.90" y1="418.40" x2="471.40" y2="418.40" stroke="#505050" stroke-width="1.1" />
<line x1="476.80" y1="392.70" x2="476.80" y2="413.00" stroke="#777" stroke-width="0.8" />
<line x1="476.80" y1="446.20" x2="476.80" y2="450.00" stroke="#777" stroke-width="0.8" />
<line x1="474.90" y1="392.70" x2="478.70" y2="392.70" stroke="#777" stroke-width="0.8" />
<line x1="474.90" y1="450.00" x2="478.70" y2="450.00" stroke="#777" stroke-width="0.8" />
<rect x="472.20" y="413.00" width="9.20" height="33.20" fill="#e2282a" />
<line x1="472.20" y1="438.60" x2="481.40" y2="438.60" stroke="#333" stroke-width="1.1" />
<line x1="499.05" y1="353.60" x2="499.05" y2="397.60" stroke="#777" stroke-width="0.8" />
<line x1="499.05" y1="426.50" x2="499.05" y2="435.40" stroke="#777" stroke-width="0.8" />
<line x1="497.15" y1="353.60" x2="500.95" y2="353.60" stroke="#777" stroke-width="0.8" />
<line x1="497.15" y1="435.40" x2="500.95" y2="435.40" stroke="#777" stroke-width="0.8" />
<rect x="494.30" y="397.60" width="9.50" height="28.90" fill="#c0c0c0" />
<line x1="494.30" y1="421.90" x2="503.80" y2="421.90" stroke="#505050" stroke-width="1.1" />
<line x1="508.75" y1="353.60" x2="508.75" y2="403.00" stroke="#777" stroke-width="0.8" />
<line x1="508.75" y1="449.40" x2="508.75" y2="458.90" stroke="#777" stroke-width="0.8" />
<line x1="506.85" y1="458.90" x2="510.65" y2="458.90" stroke="#777" stroke-width="0.8" />
<rect x="504.30" y="403.00" width="8.90" height="46.40" fill="#e2282a" />
<line x1="504.30" y1="441.30" x2="513.20" y2="441.30" stroke="#333" stroke-width="1.1" />
<rect x="496.50" y="356.40" width="14.50" height="8.20" fill="#fff" />
<line x1="533.90" y1="406.20" x2="533.90" y2="409.40" stroke="#777" stroke-width="0.8" />
<line x1="533.90" y1="414.80" x2="533.90" y2="419.20" stroke="#777" stroke-width="0.8" />
<line x1="532.00" y1="406.20" x2="535.80" y2="406.20" stroke="#777" stroke-width="0.8" />
<line x1="532.00" y1="419.20" x2="535.80" y2="419.20" stroke="#777" stroke-width="0.8" />
<rect x="529.20" y="409.40" width="9.40" height="5.40" fill="#c0c0c0" />
<line x1="529.20" y1="411.60" x2="538.60" y2="411.60" stroke="#505050" stroke-width="1.1" />
<line x1="544.00" y1="406.20" x2="544.00" y2="409.40" stroke="#777" stroke-width="0.8" />
<line x1="544.00" y1="414.80" x2="544.00" y2="419.20" stroke="#777" stroke-width="0.8" />
<line x1="542.10" y1="406.20" x2="545.90" y2="406.20" stroke="#777" stroke-width="0.8" />
<line x1="542.10" y1="419.20" x2="545.90" y2="419.20" stroke="#777" stroke-width="0.8" />
<rect x="539.40" y="409.40" width="9.20" height="5.40" fill="#e2282a" />
<line x1="539.40" y1="411.60" x2="548.60" y2="411.60" stroke="#333" stroke-width="1.1" />
<line x1="565.50" y1="402.20" x2="565.50" y2="406.70" stroke="#777" stroke-width="0.8" />
<line x1="565.50" y1="419.70" x2="565.50" y2="428.30" stroke="#777" stroke-width="0.8" />
<line x1="563.60" y1="402.20" x2="567.40" y2="402.20" stroke="#777" stroke-width="0.8" />
<line x1="563.60" y1="428.30" x2="567.40" y2="428.30" stroke="#777" stroke-width="0.8" />
<rect x="560.80" y="406.70" width="9.40" height="13.00" fill="#c0c0c0" />
<line x1="560.80" y1="410.30" x2="570.20" y2="410.30" stroke="#505050" stroke-width="1.1" />
<line x1="575.50" y1="402.20" x2="575.50" y2="404.90" stroke="#777" stroke-width="0.8" />
<line x1="575.50" y1="416.20" x2="575.50" y2="425.90" stroke="#777" stroke-width="0.8" />
<line x1="573.60" y1="402.20" x2="577.40" y2="402.20" stroke="#777" stroke-width="0.8" />
<line x1="573.60" y1="425.90" x2="577.40" y2="425.90" stroke="#777" stroke-width="0.8" />
<rect x="570.80" y="404.90" width="9.40" height="11.30" fill="#e2282a" />
<line x1="570.80" y1="410.30" x2="580.20" y2="410.30" stroke="#333" stroke-width="1.1" />
<line x1="597.90" y1="407.60" x2="597.90" y2="413.00" stroke="#777" stroke-width="0.8" />
<line x1="597.90" y1="429.20" x2="597.90" y2="447.30" stroke="#777" stroke-width="0.8" />
<line x1="596.00" y1="407.60" x2="599.80" y2="407.60" stroke="#777" stroke-width="0.8" />
<line x1="596.00" y1="447.30" x2="599.80" y2="447.30" stroke="#777" stroke-width="0.8" />
<rect x="593.20" y="413.00" width="9.40" height="16.20" fill="#c0c0c0" />
<line x1="593.20" y1="417.00" x2="602.60" y2="417.00" stroke="#505050" stroke-width="1.1" />
<line x1="607.35" y1="431.00" x2="607.35" y2="437.80" stroke="#777" stroke-width="0.8" />
<line x1="607.35" y1="457.50" x2="607.35" y2="469.70" stroke="#777" stroke-width="0.8" />
<line x1="605.45" y1="431.00" x2="609.25" y2="431.00" stroke="#777" stroke-width="0.8" />
<line x1="605.45" y1="469.70" x2="609.25" y2="469.70" stroke="#777" stroke-width="0.8" />
<rect x="602.60" y="437.80" width="9.50" height="19.70" fill="#e2282a" />
<line x1="602.60" y1="440.00" x2="612.10" y2="440.00" stroke="#333" stroke-width="1.1" />
<line x1="629.60" y1="406.70" x2="629.60" y2="412.10" stroke="#777" stroke-width="0.8" />
<line x1="629.60" y1="423.80" x2="629.60" y2="423.80" stroke="#777" stroke-width="0.8" />
<line x1="627.70" y1="406.70" x2="631.50" y2="406.70" stroke="#777" stroke-width="0.8" />
<line x1="627.70" y1="423.80" x2="631.50" y2="423.80" stroke="#777" stroke-width="0.8" />
<rect x="625.00" y="412.10" width="9.20" height="11.70" fill="#c0c0c0" />
<line x1="625.00" y1="412.40" x2="634.20" y2="412.40" stroke="#505050" stroke-width="1.1" />
<line x1="639.35" y1="403.50" x2="639.35" y2="433.20" stroke="#777" stroke-width="0.8" />
<line x1="639.35" y1="473.70" x2="639.35" y2="481.30" stroke="#777" stroke-width="0.8" />
<line x1="637.45" y1="403.50" x2="641.25" y2="403.50" stroke="#777" stroke-width="0.8" />
<line x1="637.45" y1="481.30" x2="641.25" y2="481.30" stroke="#777" stroke-width="0.8" />
<rect x="635.00" y="433.20" width="8.70" height="40.50" fill="#e2282a" />
<line x1="635.00" y1="454.80" x2="643.70" y2="454.80" stroke="#333" stroke-width="1.1" />
<circle cx="630.2" cy="449.5" r="0.6" fill="#555"/>
<circle cx="630.2" cy="452.5" r="0.6" fill="#555"/>
<circle cx="630.2" cy="455.5" r="0.6" fill="#555"/>
<line x1="661.65" y1="400.80" x2="661.65" y2="408.90" stroke="#777" stroke-width="0.8" />
<line x1="661.65" y1="432.40" x2="661.65" y2="459.70" stroke="#777" stroke-width="0.8" />
<line x1="659.75" y1="400.80" x2="663.55" y2="400.80" stroke="#777" stroke-width="0.8" />
<line x1="659.75" y1="459.70" x2="663.55" y2="459.70" stroke="#777" stroke-width="0.8" />
<rect x="657.20" y="408.90" width="8.90" height="23.50" fill="#c0c0c0" />
<line x1="657.20" y1="415.70" x2="666.10" y2="415.70" stroke="#505050" stroke-width="1.1" />
<line x1="671.35" y1="372.30" x2="671.35" y2="398.60" stroke="#777" stroke-width="0.8" />
<line x1="671.35" y1="461.60" x2="671.35" y2="471.00" stroke="#777" stroke-width="0.8" />
<line x1="669.45" y1="372.30" x2="673.25" y2="372.30" stroke="#777" stroke-width="0.8" />
<line x1="669.45" y1="471.00" x2="673.25" y2="471.00" stroke="#777" stroke-width="0.8" />
<rect x="666.60" y="398.60" width="9.50" height="63.00" fill="#e2282a" />
<line x1="666.60" y1="435.40" x2="676.10" y2="435.40" stroke="#333" stroke-width="1.1" />
<rect x="360.1" y="338.5" width="160.19999999999993" height="147.39999999999998" fill="none" stroke="#777" stroke-width="0.9"/>
<rect x="523.5" y="338.5" width="159.29999999999995" height="147.39999999999998" fill="none" stroke="#777" stroke-width="0.9"/>
<rect x="418.20" y="344.20" width="15.40" height="4.60" fill="#c4c4c4" stroke="#aaa" stroke-width="0.5"/>
<text x="452.10" y="348.81" font-size="6.8" font-family='"Liberation Sans", sans-serif' fill="#333" text-anchor="middle" stroke="#333" stroke-width="0.28" textLength="22.40" lengthAdjust="spacingAndGlyphs" >DMSO</text>
<rect x="479.50" y="344.20" width="14.80" height="4.60" fill="#e02226" stroke="#c01818" stroke-width="0.5"/>
<text x="506.10" y="348.81" font-size="6.8" font-family='"Liberation Sans", sans-serif' fill="#333" text-anchor="middle" stroke="#333" stroke-width="0.28" textLength="11.60" lengthAdjust="spacingAndGlyphs" >JQ1</text>
<rect x="581.00" y="344.20" width="15.40" height="4.60" fill="#c4c4c4" stroke="#aaa" stroke-width="0.5"/>
<text x="614.40" y="348.81" font-size="6.8" font-family='"Liberation Sans", sans-serif' fill="#333" text-anchor="middle" stroke="#333" stroke-width="0.28" textLength="22.40" lengthAdjust="spacingAndGlyphs" >DMSO</text>
<rect x="641.00" y="344.20" width="14.80" height="4.60" fill="#e02226" stroke="#c01818" stroke-width="0.5"/>
<text x="668.40" y="348.81" font-size="6.8" font-family='"Liberation Sans", sans-serif' fill="#333" text-anchor="middle" stroke="#333" stroke-width="0.28" textLength="11.60" lengthAdjust="spacingAndGlyphs" >JQ1</text>
<text x="409.20" y="382.90" font-size="6.6" font-family='"Liberation Sans", sans-serif' fill="#222" text-anchor="middle" textLength="21.5" lengthAdjust="spacingAndGlyphs">6×10<tspan dy="-2.4" font-size="4.6">−5</tspan></text>
<text x="442.20" y="403.20" font-size="6.6" font-family='"Liberation Sans", sans-serif' fill="#222" text-anchor="middle" textLength="21.5" lengthAdjust="spacingAndGlyphs">1×10<tspan dy="-2.4" font-size="4.6">−5</tspan></text>
<text x="471.00" y="381.61" font-size="6.8" font-family='"Liberation Sans", sans-serif' fill="#222" text-anchor="middle" stroke="#222" stroke-width="0.28" textLength="15.40" lengthAdjust="spacingAndGlyphs" >0.002</text>
<text x="503.50" y="363.91" font-size="6.8" font-family='"Liberation Sans", sans-serif' fill="#222" text-anchor="middle" stroke="#222" stroke-width="0.28" textLength="11.40" lengthAdjust="spacingAndGlyphs" >0.02</text>
<text x="570.50" y="398.31" font-size="6.8" font-family='"Liberation Sans", sans-serif' fill="#222" text-anchor="middle" stroke="#222" stroke-width="0.28" textLength="11.40" lengthAdjust="spacingAndGlyphs" >0.45</text>
<text x="603.40" y="398.91" font-size="6.8" font-family='"Liberation Sans", sans-serif' fill="#222" text-anchor="middle" stroke="#222" stroke-width="0.28" textLength="19.00" lengthAdjust="spacingAndGlyphs" >0.0002</text>
<text x="634.60" y="398.31" font-size="6.8" font-family='"Liberation Sans", sans-serif' fill="#222" text-anchor="middle" stroke="#222" stroke-width="0.28" textLength="11.40" lengthAdjust="spacingAndGlyphs" >0.02</text>
<text x="669.70" y="369.41" font-size="6.8" font-family='"Liberation Sans", sans-serif' fill="#222" text-anchor="middle" stroke="#222" stroke-width="0.28" textLength="7.40" lengthAdjust="spacingAndGlyphs" >0.1</text>
<circle cx="471.0" cy="386.2" r="0.45" fill="#666"/>
<text x="356.50" y="364.19" font-size="8.2" font-family='"Liberation Serif", serif' fill="#222" text-anchor="end" stroke="#222" stroke-width="0.14" >1</text>
<text x="356.50" y="413.59" font-size="8.2" font-family='"Liberation Serif", serif' fill="#222" text-anchor="end" stroke="#222" stroke-width="0.14" >0</text>
<text x="356.50" y="465.69" font-size="8.2" font-family='"Liberation Serif", serif' fill="#222" text-anchor="end" stroke="#222" stroke-width="0.14" >-1</text>
<text transform="translate(344.20,407.80) rotate(-90)" x="0" y="2.72" font-size="8.0" font-family='"Liberation Serif", serif' fill="#222" text-anchor="middle" stroke="#222" stroke-width="0.28" textLength="114.00" lengthAdjust="spacingAndGlyphs" >Fold change of gene expression (log2)</text>
<text x="377.40" y="495.79" font-size="8.8" font-family='"Liberation Serif", serif' fill="#222" text-anchor="middle" stroke="#222" stroke-width="0.25" textLength="9.40" lengthAdjust="spacingAndGlyphs" >0h</text>
<text x="406.60" y="495.79" font-size="8.8" font-family='"Liberation Serif", serif' fill="#222" text-anchor="middle" stroke="#222" stroke-width="0.25" textLength="9.40" lengthAdjust="spacingAndGlyphs" >2h</text>
<text x="437.10" y="495.79" font-size="8.8" font-family='"Liberation Serif", serif' fill="#222" text-anchor="middle" stroke="#222" stroke-width="0.25" textLength="9.40" lengthAdjust="spacingAndGlyphs" >6h</text>
<text x="470.00" y="495.79" font-size="8.8" font-family='"Liberation Serif", serif' fill="#222" text-anchor="middle" stroke="#222" stroke-width="0.25" textLength="13.40" lengthAdjust="spacingAndGlyphs" >12h</text>
<text x="504.30" y="495.79" font-size="8.8" font-family='"Liberation Serif", serif' fill="#222" text-anchor="middle" stroke="#222" stroke-width="0.25" textLength="13.40" lengthAdjust="spacingAndGlyphs" >24h</text>
<text x="540.50" y="495.79" font-size="8.8" font-family='"Liberation Serif", serif' fill="#222" text-anchor="middle" stroke="#222" stroke-width="0.25" textLength="9.40" lengthAdjust="spacingAndGlyphs" >0h</text>
<text x="570.80" y="495.79" font-size="8.8" font-family='"Liberation Serif", serif' fill="#222" text-anchor="middle" stroke="#222" stroke-width="0.25" textLength="9.40" lengthAdjust="spacingAndGlyphs" >2h</text>
<text x="600.50" y="495.79" font-size="8.8" font-family='"Liberation Serif", serif' fill="#222" text-anchor="middle" stroke="#222" stroke-width="0.25" textLength="9.40" lengthAdjust="spacingAndGlyphs" >6h</text>
<text x="632.90" y="495.79" font-size="8.8" font-family='"Liberation Serif", serif' fill="#222" text-anchor="middle" stroke="#222" stroke-width="0.25" textLength="13.40" lengthAdjust="spacingAndGlyphs" >12h</text>
<text x="666.90" y="495.79" font-size="8.8" font-family='"Liberation Serif", serif' fill="#222" text-anchor="middle" stroke="#222" stroke-width="0.25" textLength="13.40" lengthAdjust="spacingAndGlyphs" >24h</text>
<text x="345.80" y="336.44" font-size="16" font-family='"Liberation Serif", serif' fill="#222" text-anchor="middle" font-weight="bold" textLength="8.00" lengthAdjust="spacingAndGlyphs" >g</text>
</svg>
</body></html>
